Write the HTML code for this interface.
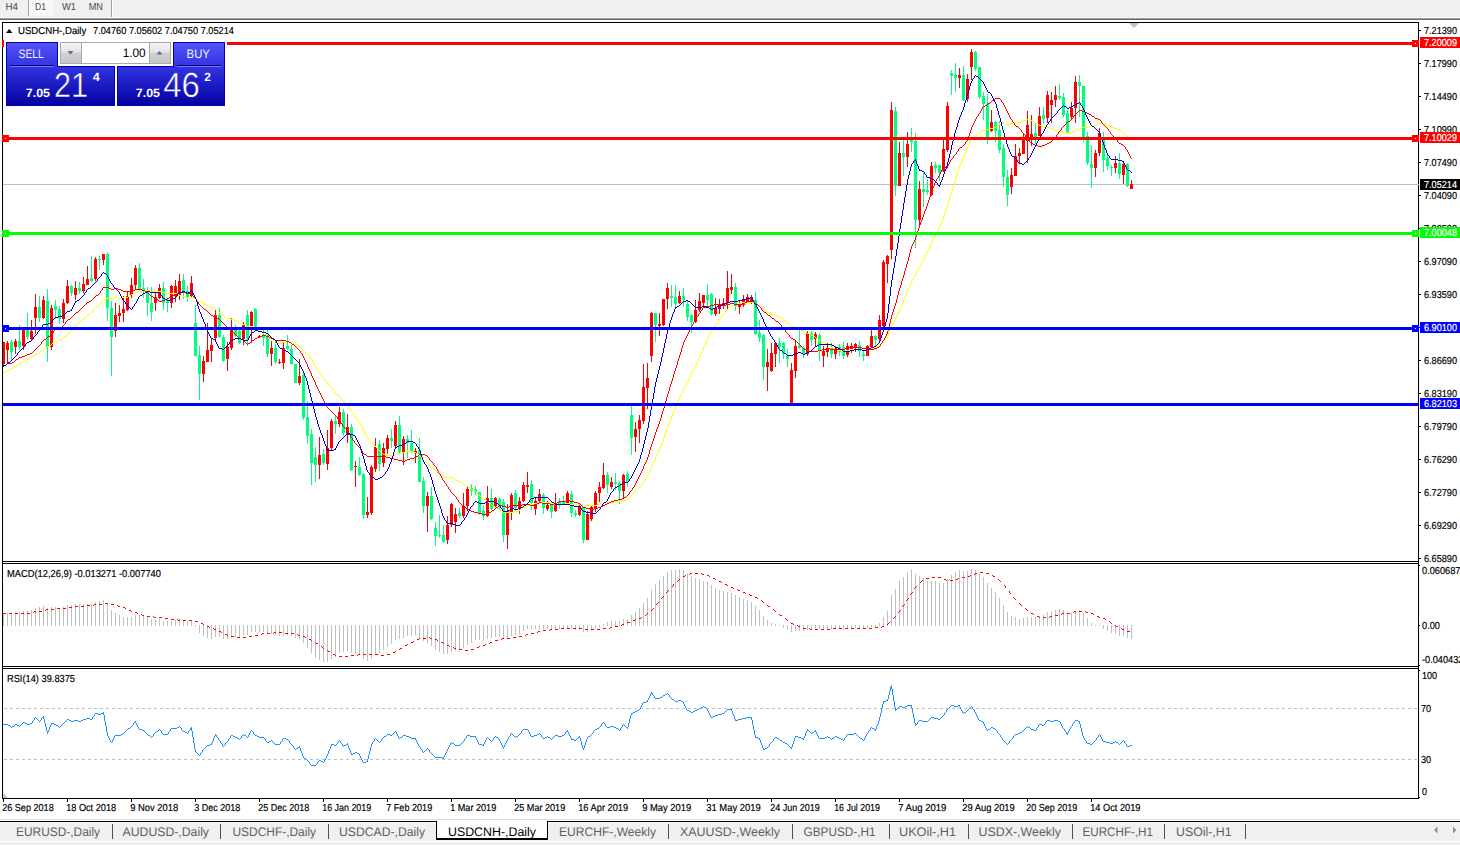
<!DOCTYPE html>
<html><head><meta charset="utf-8"><title>USDCNH-,Daily</title>
<style>
html,body{margin:0;padding:0;background:#fff;}
body{width:1460px;height:845px;overflow:hidden;font-family:'Liberation Sans', sans-serif;}
svg{display:block;font-family:"Liberation Sans",sans-serif;text-rendering:geometricPrecision;}
text{white-space:pre;}
</style></head><body>
<svg width="1460" height="845" viewBox="0 0 1460 845">
<rect x="0" y="0" width="1460" height="845" fill="#ffffff" />
<rect x="0" y="0" width="1460" height="17" fill="#f0f0f0" />
<rect x="0" y="17" width="1460" height="1" fill="#f8f8f8" />
<rect x="0" y="18" width="1460" height="1" fill="#a0a0a0" />
<rect x="0" y="19" width="1460" height="1" fill="#696969" />
<defs><pattern id="chk" width="2" height="2" patternUnits="userSpaceOnUse"><rect width="2" height="2" fill="#f0f0f0"/><rect x="0" y="0" width="1" height="1" fill="#fff"/><rect x="1" y="1" width="1" height="1" fill="#fff"/></pattern></defs>
<rect x="29" y="0" width="24" height="16" fill="url(#chk)" shape-rendering="crispEdges"/>
<rect x="28" y="0" width="1" height="16" fill="#a0a0a0" />
<rect x="111" y="0" width="1" height="17" fill="#a0a0a0" />
<rect x="112" y="0" width="1" height="17" fill="#ffffff" />
<text x="5.5" y="10" font-size="10.05" fill="#484848" text-anchor="start" font-weight="normal" textLength="12.5" lengthAdjust="spacingAndGlyphs" >H4</text>
<text x="35" y="10" font-size="10.05" fill="#484848" text-anchor="start" font-weight="normal" textLength="11" lengthAdjust="spacingAndGlyphs" >D1</text>
<text x="62" y="10" font-size="10.05" fill="#484848" text-anchor="start" font-weight="normal" textLength="14" lengthAdjust="spacingAndGlyphs" >W1</text>
<text x="88.7" y="10" font-size="10.05" fill="#484848" text-anchor="start" font-weight="normal" textLength="14.3" lengthAdjust="spacingAndGlyphs" >MN</text>
<g shape-rendering="crispEdges">
<rect x="3" y="184" width="1415" height="1" fill="#c0c0c0" />
<rect x="3" y="342" width="1" height="24" fill="#ff0000"/>
<rect x="2" y="342" width="3" height="22" fill="#ff0000"/>
<rect x="7" y="341" width="1" height="23" fill="#ff0000"/>
<rect x="6" y="343" width="3" height="7" fill="#ff0000"/>
<rect x="11" y="340" width="1" height="21" fill="#00ff7f"/>
<rect x="10" y="342" width="3" height="10" fill="#00ff7f"/>
<rect x="15" y="339" width="1" height="15" fill="#ff0000"/>
<rect x="14" y="341" width="3" height="6" fill="#ff0000"/>
<rect x="19" y="325" width="1" height="25" fill="#00ff7f"/>
<rect x="18" y="341" width="3" height="6" fill="#00ff7f"/>
<rect x="23" y="329" width="1" height="21" fill="#ff0000"/>
<rect x="22" y="329" width="3" height="17" fill="#ff0000"/>
<rect x="27" y="313" width="1" height="26" fill="#00ff7f"/>
<rect x="26" y="329" width="3" height="8" fill="#00ff7f"/>
<rect x="31" y="320" width="1" height="20" fill="#ff0000"/>
<rect x="30" y="331" width="3" height="8" fill="#ff0000"/>
<rect x="35" y="294" width="1" height="40" fill="#ff0000"/>
<rect x="34" y="307" width="3" height="11" fill="#ff0000"/>
<rect x="39" y="296" width="1" height="26" fill="#00ff7f"/>
<rect x="38" y="307" width="3" height="11" fill="#00ff7f"/>
<rect x="43" y="296" width="1" height="23" fill="#ff0000"/>
<rect x="42" y="300" width="3" height="18" fill="#ff0000"/>
<rect x="47" y="289" width="1" height="73" fill="#00ff7f"/>
<rect x="46" y="301" width="3" height="46" fill="#00ff7f"/>
<rect x="51" y="305" width="1" height="45" fill="#ff0000"/>
<rect x="50" y="308" width="3" height="39" fill="#ff0000"/>
<rect x="55" y="300" width="1" height="19" fill="#00ff7f"/>
<rect x="54" y="306" width="3" height="4" fill="#00ff7f"/>
<rect x="59" y="306" width="1" height="18" fill="#00ff7f"/>
<rect x="58" y="309" width="3" height="10" fill="#00ff7f"/>
<rect x="63" y="299" width="1" height="24" fill="#ff0000"/>
<rect x="62" y="303" width="3" height="16" fill="#ff0000"/>
<rect x="67" y="280" width="1" height="24" fill="#ff0000"/>
<rect x="66" y="286" width="3" height="17" fill="#ff0000"/>
<rect x="71" y="285" width="1" height="11" fill="#00ff7f"/>
<rect x="70" y="286" width="3" height="7" fill="#00ff7f"/>
<rect x="75" y="281" width="1" height="19" fill="#ff0000"/>
<rect x="74" y="288" width="3" height="7" fill="#ff0000"/>
<rect x="79" y="282" width="1" height="12" fill="#00ff7f"/>
<rect x="78" y="288" width="3" height="3" fill="#00ff7f"/>
<rect x="83" y="277" width="1" height="16" fill="#ff0000"/>
<rect x="82" y="284" width="3" height="7" fill="#ff0000"/>
<rect x="87" y="266" width="1" height="19" fill="#ff0000"/>
<rect x="86" y="279" width="3" height="6" fill="#ff0000"/>
<rect x="91" y="256" width="1" height="26" fill="#00ff7f"/>
<rect x="90" y="278" width="3" height="3" fill="#00ff7f"/>
<rect x="95" y="257" width="1" height="24" fill="#ff0000"/>
<rect x="94" y="259" width="3" height="20" fill="#ff0000"/>
<rect x="99" y="256" width="1" height="14" fill="#00ff7f"/>
<rect x="98" y="259" width="3" height="1" fill="#00ff7f"/>
<rect x="103" y="254" width="1" height="11" fill="#ff0000"/>
<rect x="102" y="254" width="3" height="6" fill="#ff0000"/>
<rect x="107" y="253" width="1" height="68" fill="#00ff7f"/>
<rect x="106" y="254" width="3" height="54" fill="#00ff7f"/>
<rect x="111" y="301" width="1" height="75" fill="#00ff7f"/>
<rect x="110" y="308" width="3" height="29" fill="#00ff7f"/>
<rect x="115" y="303" width="1" height="34" fill="#ff0000"/>
<rect x="114" y="315" width="3" height="16" fill="#ff0000"/>
<rect x="119" y="305" width="1" height="17" fill="#ff0000"/>
<rect x="118" y="313" width="3" height="3" fill="#ff0000"/>
<rect x="123" y="296" width="1" height="26" fill="#ff0000"/>
<rect x="122" y="309" width="3" height="4" fill="#ff0000"/>
<rect x="127" y="291" width="1" height="20" fill="#ff0000"/>
<rect x="126" y="296" width="3" height="14" fill="#ff0000"/>
<rect x="131" y="278" width="1" height="20" fill="#ff0000"/>
<rect x="130" y="285" width="3" height="10" fill="#ff0000"/>
<rect x="135" y="265" width="1" height="24" fill="#ff0000"/>
<rect x="134" y="268" width="3" height="17" fill="#ff0000"/>
<rect x="139" y="263" width="1" height="26" fill="#00ff7f"/>
<rect x="138" y="268" width="3" height="21" fill="#00ff7f"/>
<rect x="143" y="279" width="1" height="19" fill="#00ff7f"/>
<rect x="142" y="288" width="3" height="3" fill="#00ff7f"/>
<rect x="147" y="287" width="1" height="29" fill="#00ff7f"/>
<rect x="146" y="291" width="3" height="12" fill="#00ff7f"/>
<rect x="151" y="287" width="1" height="34" fill="#00ff7f"/>
<rect x="150" y="303" width="3" height="9" fill="#00ff7f"/>
<rect x="155" y="291" width="1" height="20" fill="#ff0000"/>
<rect x="154" y="297" width="3" height="6" fill="#ff0000"/>
<rect x="159" y="284" width="1" height="15" fill="#ff0000"/>
<rect x="158" y="288" width="3" height="10" fill="#ff0000"/>
<rect x="163" y="282" width="1" height="28" fill="#00ff7f"/>
<rect x="162" y="288" width="3" height="15" fill="#00ff7f"/>
<rect x="167" y="298" width="1" height="14" fill="#00ff7f"/>
<rect x="166" y="300" width="3" height="3" fill="#00ff7f"/>
<rect x="171" y="285" width="1" height="23" fill="#ff0000"/>
<rect x="170" y="286" width="3" height="17" fill="#ff0000"/>
<rect x="175" y="280" width="1" height="22" fill="#ff0000"/>
<rect x="174" y="286" width="3" height="10" fill="#ff0000"/>
<rect x="179" y="274" width="1" height="26" fill="#ff0000"/>
<rect x="178" y="281" width="3" height="14" fill="#ff0000"/>
<rect x="183" y="274" width="1" height="25" fill="#00ff7f"/>
<rect x="182" y="280" width="3" height="12" fill="#00ff7f"/>
<rect x="187" y="286" width="1" height="16" fill="#00ff7f"/>
<rect x="186" y="291" width="3" height="6" fill="#00ff7f"/>
<rect x="191" y="276" width="1" height="22" fill="#ff0000"/>
<rect x="190" y="283" width="3" height="13" fill="#ff0000"/>
<rect x="195" y="305" width="1" height="51" fill="#00ff7f"/>
<rect x="194" y="323" width="3" height="33" fill="#00ff7f"/>
<rect x="199" y="346" width="1" height="54" fill="#00ff7f"/>
<rect x="198" y="355" width="3" height="19" fill="#00ff7f"/>
<rect x="203" y="356" width="1" height="26" fill="#ff0000"/>
<rect x="202" y="361" width="3" height="13" fill="#ff0000"/>
<rect x="207" y="323" width="1" height="39" fill="#ff0000"/>
<rect x="206" y="350" width="3" height="12" fill="#ff0000"/>
<rect x="211" y="338" width="1" height="24" fill="#ff0000"/>
<rect x="210" y="345" width="3" height="6" fill="#ff0000"/>
<rect x="215" y="310" width="1" height="31" fill="#ff0000"/>
<rect x="214" y="315" width="3" height="23" fill="#ff0000"/>
<rect x="219" y="308" width="1" height="30" fill="#00ff7f"/>
<rect x="218" y="315" width="3" height="22" fill="#00ff7f"/>
<rect x="223" y="335" width="1" height="27" fill="#00ff7f"/>
<rect x="222" y="337" width="3" height="24" fill="#00ff7f"/>
<rect x="227" y="342" width="1" height="29" fill="#ff0000"/>
<rect x="226" y="347" width="3" height="12" fill="#ff0000"/>
<rect x="231" y="318" width="1" height="32" fill="#ff0000"/>
<rect x="230" y="328" width="3" height="20" fill="#ff0000"/>
<rect x="235" y="325" width="1" height="12" fill="#00ff7f"/>
<rect x="234" y="328" width="3" height="8" fill="#00ff7f"/>
<rect x="239" y="329" width="1" height="15" fill="#00ff7f"/>
<rect x="238" y="331" width="3" height="12" fill="#00ff7f"/>
<rect x="243" y="322" width="1" height="23" fill="#ff0000"/>
<rect x="242" y="325" width="3" height="14" fill="#ff0000"/>
<rect x="247" y="310" width="1" height="36" fill="#00ff7f"/>
<rect x="246" y="315" width="3" height="23" fill="#00ff7f"/>
<rect x="251" y="311" width="1" height="32" fill="#ff0000"/>
<rect x="250" y="312" width="3" height="14" fill="#ff0000"/>
<rect x="255" y="308" width="1" height="23" fill="#00ff7f"/>
<rect x="254" y="309" width="3" height="21" fill="#00ff7f"/>
<rect x="259" y="335" width="1" height="3" fill="#ff0000"/>
<rect x="258" y="336" width="3" height="1" fill="#ff0000"/>
<rect x="263" y="330" width="1" height="16" fill="#00ff7f"/>
<rect x="262" y="334" width="3" height="4" fill="#00ff7f"/>
<rect x="267" y="330" width="1" height="27" fill="#00ff7f"/>
<rect x="266" y="335" width="3" height="19" fill="#00ff7f"/>
<rect x="271" y="341" width="1" height="25" fill="#ff0000"/>
<rect x="270" y="348" width="3" height="6" fill="#ff0000"/>
<rect x="275" y="341" width="1" height="23" fill="#00ff7f"/>
<rect x="274" y="348" width="3" height="14" fill="#00ff7f"/>
<rect x="279" y="359" width="1" height="5" fill="#ff0000"/>
<rect x="278" y="362" width="3" height="1" fill="#ff0000"/>
<rect x="283" y="343" width="1" height="26" fill="#ff0000"/>
<rect x="282" y="348" width="3" height="15" fill="#ff0000"/>
<rect x="287" y="335" width="1" height="15" fill="#00ff7f"/>
<rect x="286" y="346" width="3" height="3" fill="#00ff7f"/>
<rect x="291" y="345" width="1" height="20" fill="#00ff7f"/>
<rect x="290" y="349" width="3" height="15" fill="#00ff7f"/>
<rect x="295" y="364" width="1" height="19" fill="#00ff7f"/>
<rect x="294" y="364" width="3" height="19" fill="#00ff7f"/>
<rect x="299" y="359" width="1" height="26" fill="#ff0000"/>
<rect x="298" y="376" width="3" height="7" fill="#ff0000"/>
<rect x="303" y="373" width="1" height="47" fill="#00ff7f"/>
<rect x="302" y="375" width="3" height="43" fill="#00ff7f"/>
<rect x="307" y="401" width="1" height="43" fill="#00ff7f"/>
<rect x="306" y="417" width="3" height="19" fill="#00ff7f"/>
<rect x="311" y="429" width="1" height="56" fill="#00ff7f"/>
<rect x="310" y="434" width="3" height="29" fill="#00ff7f"/>
<rect x="315" y="447" width="1" height="35" fill="#00ff7f"/>
<rect x="314" y="457" width="3" height="8" fill="#00ff7f"/>
<rect x="319" y="437" width="1" height="42" fill="#ff0000"/>
<rect x="318" y="455" width="3" height="10" fill="#ff0000"/>
<rect x="323" y="449" width="1" height="16" fill="#00ff7f"/>
<rect x="322" y="454" width="3" height="9" fill="#00ff7f"/>
<rect x="327" y="430" width="1" height="40" fill="#ff0000"/>
<rect x="326" y="448" width="3" height="16" fill="#ff0000"/>
<rect x="331" y="419" width="1" height="32" fill="#ff0000"/>
<rect x="330" y="421" width="3" height="27" fill="#ff0000"/>
<rect x="335" y="416" width="1" height="18" fill="#00ff7f"/>
<rect x="334" y="421" width="3" height="3" fill="#00ff7f"/>
<rect x="339" y="407" width="1" height="20" fill="#ff0000"/>
<rect x="338" y="412" width="3" height="12" fill="#ff0000"/>
<rect x="343" y="409" width="1" height="27" fill="#00ff7f"/>
<rect x="342" y="412" width="3" height="21" fill="#00ff7f"/>
<rect x="347" y="414" width="1" height="29" fill="#ff0000"/>
<rect x="346" y="427" width="3" height="8" fill="#ff0000"/>
<rect x="351" y="424" width="1" height="47" fill="#00ff7f"/>
<rect x="350" y="427" width="3" height="43" fill="#00ff7f"/>
<rect x="355" y="461" width="1" height="26" fill="#ff0000"/>
<rect x="354" y="466" width="3" height="1" fill="#ff0000"/>
<rect x="359" y="457" width="1" height="19" fill="#00ff7f"/>
<rect x="358" y="467" width="3" height="8" fill="#00ff7f"/>
<rect x="363" y="473" width="1" height="46" fill="#00ff7f"/>
<rect x="362" y="474" width="3" height="41" fill="#00ff7f"/>
<rect x="367" y="497" width="1" height="21" fill="#ff0000"/>
<rect x="366" y="512" width="3" height="3" fill="#ff0000"/>
<rect x="371" y="465" width="1" height="50" fill="#ff0000"/>
<rect x="370" y="467" width="3" height="46" fill="#ff0000"/>
<rect x="375" y="438" width="1" height="34" fill="#ff0000"/>
<rect x="374" y="447" width="3" height="22" fill="#ff0000"/>
<rect x="379" y="440" width="1" height="31" fill="#00ff7f"/>
<rect x="378" y="444" width="3" height="20" fill="#00ff7f"/>
<rect x="383" y="443" width="1" height="24" fill="#ff0000"/>
<rect x="382" y="448" width="3" height="15" fill="#ff0000"/>
<rect x="387" y="435" width="1" height="19" fill="#ff0000"/>
<rect x="386" y="438" width="3" height="11" fill="#ff0000"/>
<rect x="391" y="429" width="1" height="19" fill="#00ff7f"/>
<rect x="390" y="438" width="3" height="3" fill="#00ff7f"/>
<rect x="395" y="421" width="1" height="26" fill="#ff0000"/>
<rect x="394" y="425" width="3" height="21" fill="#ff0000"/>
<rect x="399" y="416" width="1" height="37" fill="#00ff7f"/>
<rect x="398" y="425" width="3" height="27" fill="#00ff7f"/>
<rect x="403" y="436" width="1" height="29" fill="#ff0000"/>
<rect x="402" y="439" width="3" height="13" fill="#ff0000"/>
<rect x="407" y="435" width="1" height="23" fill="#00ff7f"/>
<rect x="406" y="439" width="3" height="4" fill="#00ff7f"/>
<rect x="411" y="430" width="1" height="23" fill="#00ff7f"/>
<rect x="410" y="443" width="3" height="9" fill="#00ff7f"/>
<rect x="415" y="448" width="1" height="15" fill="#ff0000"/>
<rect x="414" y="451" width="3" height="2" fill="#ff0000"/>
<rect x="419" y="438" width="1" height="44" fill="#00ff7f"/>
<rect x="418" y="450" width="3" height="32" fill="#00ff7f"/>
<rect x="423" y="477" width="1" height="36" fill="#00ff7f"/>
<rect x="422" y="481" width="3" height="25" fill="#00ff7f"/>
<rect x="427" y="492" width="1" height="40" fill="#ff0000"/>
<rect x="426" y="496" width="3" height="10" fill="#ff0000"/>
<rect x="431" y="487" width="1" height="33" fill="#00ff7f"/>
<rect x="430" y="496" width="3" height="23" fill="#00ff7f"/>
<rect x="435" y="522" width="1" height="24" fill="#00ff7f"/>
<rect x="434" y="528" width="3" height="8" fill="#00ff7f"/>
<rect x="439" y="515" width="1" height="23" fill="#00ff7f"/>
<rect x="438" y="535" width="3" height="1" fill="#00ff7f"/>
<rect x="443" y="525" width="1" height="18" fill="#00ff7f"/>
<rect x="442" y="535" width="3" height="7" fill="#00ff7f"/>
<rect x="447" y="516" width="1" height="28" fill="#ff0000"/>
<rect x="446" y="525" width="3" height="15" fill="#ff0000"/>
<rect x="451" y="503" width="1" height="24" fill="#ff0000"/>
<rect x="450" y="504" width="3" height="21" fill="#ff0000"/>
<rect x="455" y="508" width="1" height="25" fill="#ff0000"/>
<rect x="454" y="514" width="3" height="8" fill="#ff0000"/>
<rect x="459" y="508" width="1" height="10" fill="#00ff7f"/>
<rect x="458" y="513" width="3" height="3" fill="#00ff7f"/>
<rect x="463" y="493" width="1" height="25" fill="#ff0000"/>
<rect x="462" y="506" width="3" height="10" fill="#ff0000"/>
<rect x="467" y="487" width="1" height="24" fill="#ff0000"/>
<rect x="466" y="489" width="3" height="17" fill="#ff0000"/>
<rect x="471" y="484" width="1" height="12" fill="#00ff7f"/>
<rect x="470" y="488" width="3" height="3" fill="#00ff7f"/>
<rect x="475" y="486" width="1" height="9" fill="#00ff7f"/>
<rect x="474" y="489" width="3" height="3" fill="#00ff7f"/>
<rect x="479" y="492" width="1" height="23" fill="#00ff7f"/>
<rect x="478" y="492" width="3" height="21" fill="#00ff7f"/>
<rect x="483" y="505" width="1" height="15" fill="#00ff7f"/>
<rect x="482" y="511" width="3" height="5" fill="#00ff7f"/>
<rect x="487" y="486" width="1" height="31" fill="#ff0000"/>
<rect x="486" y="498" width="3" height="18" fill="#ff0000"/>
<rect x="491" y="489" width="1" height="21" fill="#00ff7f"/>
<rect x="490" y="498" width="3" height="11" fill="#00ff7f"/>
<rect x="495" y="497" width="1" height="12" fill="#ff0000"/>
<rect x="494" y="498" width="3" height="8" fill="#ff0000"/>
<rect x="499" y="497" width="1" height="12" fill="#00ff7f"/>
<rect x="498" y="499" width="3" height="8" fill="#00ff7f"/>
<rect x="503" y="499" width="1" height="43" fill="#00ff7f"/>
<rect x="502" y="502" width="3" height="33" fill="#00ff7f"/>
<rect x="507" y="504" width="1" height="45" fill="#ff0000"/>
<rect x="506" y="511" width="3" height="24" fill="#ff0000"/>
<rect x="511" y="493" width="1" height="27" fill="#ff0000"/>
<rect x="510" y="495" width="3" height="17" fill="#ff0000"/>
<rect x="515" y="490" width="1" height="21" fill="#00ff7f"/>
<rect x="514" y="493" width="3" height="15" fill="#00ff7f"/>
<rect x="519" y="497" width="1" height="17" fill="#ff0000"/>
<rect x="518" y="501" width="3" height="7" fill="#ff0000"/>
<rect x="523" y="482" width="1" height="20" fill="#ff0000"/>
<rect x="522" y="485" width="3" height="16" fill="#ff0000"/>
<rect x="527" y="472" width="1" height="21" fill="#ff0000"/>
<rect x="526" y="485" width="3" height="2" fill="#ff0000"/>
<rect x="531" y="480" width="1" height="30" fill="#00ff7f"/>
<rect x="530" y="484" width="3" height="19" fill="#00ff7f"/>
<rect x="535" y="498" width="1" height="17" fill="#ff0000"/>
<rect x="534" y="501" width="3" height="8" fill="#ff0000"/>
<rect x="539" y="489" width="1" height="13" fill="#ff0000"/>
<rect x="538" y="494" width="3" height="7" fill="#ff0000"/>
<rect x="543" y="493" width="1" height="21" fill="#00ff7f"/>
<rect x="542" y="495" width="3" height="13" fill="#00ff7f"/>
<rect x="547" y="501" width="1" height="10" fill="#ff0000"/>
<rect x="546" y="505" width="3" height="4" fill="#ff0000"/>
<rect x="551" y="501" width="1" height="17" fill="#00ff7f"/>
<rect x="550" y="504" width="3" height="8" fill="#00ff7f"/>
<rect x="555" y="493" width="1" height="19" fill="#ff0000"/>
<rect x="554" y="503" width="3" height="8" fill="#ff0000"/>
<rect x="559" y="498" width="1" height="11" fill="#00ff7f"/>
<rect x="558" y="501" width="3" height="4" fill="#00ff7f"/>
<rect x="563" y="496" width="1" height="9" fill="#00ff7f"/>
<rect x="562" y="501" width="3" height="3" fill="#00ff7f"/>
<rect x="567" y="491" width="1" height="14" fill="#ff0000"/>
<rect x="566" y="493" width="3" height="11" fill="#ff0000"/>
<rect x="571" y="491" width="1" height="26" fill="#00ff7f"/>
<rect x="570" y="494" width="3" height="19" fill="#00ff7f"/>
<rect x="575" y="510" width="1" height="7" fill="#00ff7f"/>
<rect x="574" y="513" width="3" height="2" fill="#00ff7f"/>
<rect x="579" y="505" width="1" height="11" fill="#ff0000"/>
<rect x="578" y="506" width="3" height="9" fill="#ff0000"/>
<rect x="583" y="506" width="1" height="37" fill="#00ff7f"/>
<rect x="582" y="507" width="3" height="33" fill="#00ff7f"/>
<rect x="587" y="511" width="1" height="29" fill="#ff0000"/>
<rect x="586" y="514" width="3" height="26" fill="#ff0000"/>
<rect x="591" y="506" width="1" height="15" fill="#ff0000"/>
<rect x="590" y="507" width="3" height="12" fill="#ff0000"/>
<rect x="595" y="491" width="1" height="21" fill="#ff0000"/>
<rect x="594" y="493" width="3" height="15" fill="#ff0000"/>
<rect x="599" y="482" width="1" height="20" fill="#ff0000"/>
<rect x="598" y="487" width="3" height="6" fill="#ff0000"/>
<rect x="603" y="463" width="1" height="26" fill="#ff0000"/>
<rect x="602" y="475" width="3" height="13" fill="#ff0000"/>
<rect x="607" y="472" width="1" height="21" fill="#00ff7f"/>
<rect x="606" y="475" width="3" height="10" fill="#00ff7f"/>
<rect x="611" y="477" width="1" height="12" fill="#ff0000"/>
<rect x="610" y="482" width="3" height="5" fill="#ff0000"/>
<rect x="615" y="473" width="1" height="17" fill="#00ff7f"/>
<rect x="614" y="482" width="3" height="2" fill="#00ff7f"/>
<rect x="619" y="481" width="1" height="23" fill="#00ff7f"/>
<rect x="618" y="483" width="3" height="8" fill="#00ff7f"/>
<rect x="623" y="474" width="1" height="24" fill="#ff0000"/>
<rect x="622" y="475" width="3" height="16" fill="#ff0000"/>
<rect x="627" y="471" width="1" height="16" fill="#00ff7f"/>
<rect x="626" y="474" width="3" height="8" fill="#00ff7f"/>
<rect x="631" y="406" width="1" height="49" fill="#00ff7f"/>
<rect x="630" y="415" width="3" height="23" fill="#00ff7f"/>
<rect x="635" y="422" width="1" height="30" fill="#ff0000"/>
<rect x="634" y="429" width="3" height="8" fill="#ff0000"/>
<rect x="639" y="415" width="1" height="28" fill="#ff0000"/>
<rect x="638" y="420" width="3" height="9" fill="#ff0000"/>
<rect x="643" y="364" width="1" height="60" fill="#ff0000"/>
<rect x="642" y="387" width="3" height="34" fill="#ff0000"/>
<rect x="647" y="363" width="1" height="46" fill="#ff0000"/>
<rect x="646" y="378" width="3" height="10" fill="#ff0000"/>
<rect x="651" y="312" width="1" height="50" fill="#ff0000"/>
<rect x="650" y="313" width="3" height="43" fill="#ff0000"/>
<rect x="655" y="313" width="1" height="29" fill="#00ff7f"/>
<rect x="654" y="313" width="3" height="12" fill="#00ff7f"/>
<rect x="659" y="313" width="1" height="23" fill="#ff0000"/>
<rect x="658" y="324" width="3" height="2" fill="#ff0000"/>
<rect x="663" y="299" width="1" height="27" fill="#ff0000"/>
<rect x="662" y="299" width="3" height="26" fill="#ff0000"/>
<rect x="667" y="283" width="1" height="26" fill="#ff0000"/>
<rect x="666" y="288" width="3" height="11" fill="#ff0000"/>
<rect x="671" y="285" width="1" height="22" fill="#00ff7f"/>
<rect x="670" y="296" width="3" height="2" fill="#00ff7f"/>
<rect x="675" y="285" width="1" height="23" fill="#00ff7f"/>
<rect x="674" y="297" width="3" height="7" fill="#00ff7f"/>
<rect x="679" y="291" width="1" height="13" fill="#ff0000"/>
<rect x="678" y="296" width="3" height="7" fill="#ff0000"/>
<rect x="683" y="288" width="1" height="19" fill="#00ff7f"/>
<rect x="682" y="296" width="3" height="4" fill="#00ff7f"/>
<rect x="687" y="300" width="1" height="21" fill="#00ff7f"/>
<rect x="686" y="304" width="3" height="13" fill="#00ff7f"/>
<rect x="691" y="314" width="1" height="19" fill="#00ff7f"/>
<rect x="690" y="315" width="3" height="7" fill="#00ff7f"/>
<rect x="695" y="300" width="1" height="23" fill="#ff0000"/>
<rect x="694" y="310" width="3" height="12" fill="#ff0000"/>
<rect x="699" y="293" width="1" height="19" fill="#ff0000"/>
<rect x="698" y="301" width="3" height="9" fill="#ff0000"/>
<rect x="703" y="295" width="1" height="13" fill="#ff0000"/>
<rect x="702" y="295" width="3" height="8" fill="#ff0000"/>
<rect x="707" y="284" width="1" height="22" fill="#00ff7f"/>
<rect x="706" y="295" width="3" height="5" fill="#00ff7f"/>
<rect x="711" y="293" width="1" height="23" fill="#00ff7f"/>
<rect x="710" y="294" width="3" height="20" fill="#00ff7f"/>
<rect x="715" y="298" width="1" height="18" fill="#ff0000"/>
<rect x="714" y="308" width="3" height="6" fill="#ff0000"/>
<rect x="719" y="299" width="1" height="15" fill="#ff0000"/>
<rect x="718" y="304" width="3" height="5" fill="#ff0000"/>
<rect x="723" y="298" width="1" height="11" fill="#ff0000"/>
<rect x="722" y="303" width="3" height="2" fill="#ff0000"/>
<rect x="727" y="271" width="1" height="38" fill="#ff0000"/>
<rect x="726" y="288" width="3" height="15" fill="#ff0000"/>
<rect x="731" y="274" width="1" height="20" fill="#ff0000"/>
<rect x="730" y="287" width="3" height="3" fill="#ff0000"/>
<rect x="735" y="283" width="1" height="28" fill="#00ff7f"/>
<rect x="734" y="287" width="3" height="19" fill="#00ff7f"/>
<rect x="739" y="300" width="1" height="14" fill="#ff0000"/>
<rect x="738" y="304" width="3" height="3" fill="#ff0000"/>
<rect x="743" y="295" width="1" height="12" fill="#ff0000"/>
<rect x="742" y="299" width="3" height="6" fill="#ff0000"/>
<rect x="747" y="294" width="1" height="9" fill="#ff0000"/>
<rect x="746" y="297" width="3" height="5" fill="#ff0000"/>
<rect x="751" y="295" width="1" height="9" fill="#ff0000"/>
<rect x="750" y="297" width="3" height="5" fill="#ff0000"/>
<rect x="755" y="292" width="1" height="43" fill="#00ff7f"/>
<rect x="754" y="300" width="3" height="34" fill="#00ff7f"/>
<rect x="759" y="320" width="1" height="22" fill="#00ff7f"/>
<rect x="758" y="333" width="3" height="5" fill="#00ff7f"/>
<rect x="763" y="334" width="1" height="46" fill="#00ff7f"/>
<rect x="762" y="335" width="3" height="32" fill="#00ff7f"/>
<rect x="767" y="349" width="1" height="42" fill="#ff0000"/>
<rect x="766" y="362" width="3" height="5" fill="#ff0000"/>
<rect x="771" y="343" width="1" height="29" fill="#ff0000"/>
<rect x="770" y="353" width="3" height="18" fill="#ff0000"/>
<rect x="775" y="343" width="1" height="24" fill="#ff0000"/>
<rect x="774" y="343" width="3" height="11" fill="#ff0000"/>
<rect x="779" y="338" width="1" height="25" fill="#00ff7f"/>
<rect x="778" y="343" width="3" height="4" fill="#00ff7f"/>
<rect x="783" y="342" width="1" height="17" fill="#00ff7f"/>
<rect x="782" y="343" width="3" height="11" fill="#00ff7f"/>
<rect x="787" y="349" width="1" height="18" fill="#00ff7f"/>
<rect x="786" y="356" width="3" height="3" fill="#00ff7f"/>
<rect x="791" y="363" width="1" height="40" fill="#ff0000"/>
<rect x="790" y="370" width="3" height="33" fill="#ff0000"/>
<rect x="795" y="341" width="1" height="37" fill="#ff0000"/>
<rect x="794" y="346" width="3" height="25" fill="#ff0000"/>
<rect x="799" y="330" width="1" height="19" fill="#00ff7f"/>
<rect x="798" y="345" width="3" height="3" fill="#00ff7f"/>
<rect x="803" y="346" width="1" height="12" fill="#00ff7f"/>
<rect x="802" y="348" width="3" height="6" fill="#00ff7f"/>
<rect x="807" y="331" width="1" height="25" fill="#ff0000"/>
<rect x="806" y="333" width="3" height="21" fill="#ff0000"/>
<rect x="811" y="331" width="1" height="15" fill="#00ff7f"/>
<rect x="810" y="333" width="3" height="7" fill="#00ff7f"/>
<rect x="815" y="332" width="1" height="14" fill="#ff0000"/>
<rect x="814" y="334" width="3" height="5" fill="#ff0000"/>
<rect x="819" y="333" width="1" height="28" fill="#00ff7f"/>
<rect x="818" y="335" width="3" height="16" fill="#00ff7f"/>
<rect x="823" y="346" width="1" height="21" fill="#ff0000"/>
<rect x="822" y="351" width="3" height="5" fill="#ff0000"/>
<rect x="827" y="343" width="1" height="14" fill="#ff0000"/>
<rect x="826" y="348" width="3" height="4" fill="#ff0000"/>
<rect x="831" y="343" width="1" height="15" fill="#00ff7f"/>
<rect x="830" y="348" width="3" height="6" fill="#00ff7f"/>
<rect x="835" y="346" width="1" height="13" fill="#ff0000"/>
<rect x="834" y="348" width="3" height="6" fill="#ff0000"/>
<rect x="839" y="344" width="1" height="12" fill="#00ff7f"/>
<rect x="838" y="347" width="3" height="5" fill="#00ff7f"/>
<rect x="843" y="342" width="1" height="17" fill="#00ff7f"/>
<rect x="842" y="347" width="3" height="9" fill="#00ff7f"/>
<rect x="847" y="343" width="1" height="14" fill="#ff0000"/>
<rect x="846" y="346" width="3" height="9" fill="#ff0000"/>
<rect x="851" y="343" width="1" height="10" fill="#ff0000"/>
<rect x="850" y="346" width="3" height="3" fill="#ff0000"/>
<rect x="855" y="343" width="1" height="9" fill="#ff0000"/>
<rect x="854" y="344" width="3" height="4" fill="#ff0000"/>
<rect x="859" y="341" width="1" height="16" fill="#00ff7f"/>
<rect x="858" y="345" width="3" height="6" fill="#00ff7f"/>
<rect x="863" y="351" width="1" height="10" fill="#00ff7f"/>
<rect x="862" y="354" width="3" height="2" fill="#00ff7f"/>
<rect x="867" y="345" width="1" height="11" fill="#ff0000"/>
<rect x="866" y="346" width="3" height="10" fill="#ff0000"/>
<rect x="871" y="330" width="1" height="18" fill="#ff0000"/>
<rect x="870" y="336" width="3" height="11" fill="#ff0000"/>
<rect x="875" y="335" width="1" height="11" fill="#00ff7f"/>
<rect x="874" y="336" width="3" height="4" fill="#00ff7f"/>
<rect x="879" y="315" width="1" height="26" fill="#ff0000"/>
<rect x="878" y="320" width="3" height="19" fill="#ff0000"/>
<rect x="883" y="260" width="1" height="67" fill="#ff0000"/>
<rect x="882" y="262" width="3" height="64" fill="#ff0000"/>
<rect x="887" y="255" width="1" height="28" fill="#ff0000"/>
<rect x="886" y="256" width="3" height="8" fill="#ff0000"/>
<rect x="891" y="102" width="1" height="157" fill="#ff0000"/>
<rect x="890" y="110" width="3" height="140" fill="#ff0000"/>
<rect x="895" y="107" width="1" height="89" fill="#00ff7f"/>
<rect x="894" y="111" width="3" height="75" fill="#00ff7f"/>
<rect x="899" y="142" width="1" height="44" fill="#ff0000"/>
<rect x="898" y="153" width="3" height="33" fill="#ff0000"/>
<rect x="903" y="140" width="1" height="36" fill="#00ff7f"/>
<rect x="902" y="153" width="3" height="4" fill="#00ff7f"/>
<rect x="907" y="132" width="1" height="35" fill="#ff0000"/>
<rect x="906" y="144" width="3" height="13" fill="#ff0000"/>
<rect x="911" y="128" width="1" height="24" fill="#00ff7f"/>
<rect x="910" y="139" width="3" height="3" fill="#00ff7f"/>
<rect x="915" y="133" width="1" height="115" fill="#00ff7f"/>
<rect x="914" y="141" width="3" height="79" fill="#00ff7f"/>
<rect x="919" y="181" width="1" height="44" fill="#ff0000"/>
<rect x="918" y="189" width="3" height="31" fill="#ff0000"/>
<rect x="923" y="173" width="1" height="34" fill="#00ff7f"/>
<rect x="922" y="189" width="3" height="3" fill="#00ff7f"/>
<rect x="927" y="179" width="1" height="16" fill="#00ff7f"/>
<rect x="926" y="190" width="3" height="2" fill="#00ff7f"/>
<rect x="931" y="162" width="1" height="34" fill="#ff0000"/>
<rect x="930" y="166" width="3" height="29" fill="#ff0000"/>
<rect x="935" y="162" width="1" height="11" fill="#00ff7f"/>
<rect x="934" y="165" width="3" height="3" fill="#00ff7f"/>
<rect x="939" y="165" width="1" height="16" fill="#00ff7f"/>
<rect x="938" y="165" width="3" height="8" fill="#00ff7f"/>
<rect x="943" y="140" width="1" height="32" fill="#ff0000"/>
<rect x="942" y="149" width="3" height="22" fill="#ff0000"/>
<rect x="947" y="102" width="1" height="50" fill="#ff0000"/>
<rect x="946" y="106" width="3" height="44" fill="#ff0000"/>
<rect x="951" y="70" width="1" height="25" fill="#00ff7f"/>
<rect x="950" y="73" width="3" height="3" fill="#00ff7f"/>
<rect x="955" y="63" width="1" height="29" fill="#00ff7f"/>
<rect x="954" y="75" width="3" height="3" fill="#00ff7f"/>
<rect x="959" y="68" width="1" height="20" fill="#ff0000"/>
<rect x="958" y="75" width="3" height="3" fill="#ff0000"/>
<rect x="963" y="66" width="1" height="35" fill="#00ff7f"/>
<rect x="962" y="75" width="3" height="25" fill="#00ff7f"/>
<rect x="967" y="74" width="1" height="28" fill="#ff0000"/>
<rect x="966" y="79" width="3" height="20" fill="#ff0000"/>
<rect x="971" y="49" width="1" height="31" fill="#ff0000"/>
<rect x="970" y="52" width="3" height="15" fill="#ff0000"/>
<rect x="975" y="51" width="1" height="20" fill="#00ff7f"/>
<rect x="974" y="52" width="3" height="17" fill="#00ff7f"/>
<rect x="979" y="67" width="1" height="32" fill="#00ff7f"/>
<rect x="978" y="67" width="3" height="30" fill="#00ff7f"/>
<rect x="983" y="92" width="1" height="28" fill="#00ff7f"/>
<rect x="982" y="96" width="3" height="8" fill="#00ff7f"/>
<rect x="987" y="94" width="1" height="50" fill="#00ff7f"/>
<rect x="986" y="104" width="3" height="33" fill="#00ff7f"/>
<rect x="991" y="110" width="1" height="22" fill="#ff0000"/>
<rect x="990" y="122" width="3" height="9" fill="#ff0000"/>
<rect x="995" y="121" width="1" height="21" fill="#00ff7f"/>
<rect x="994" y="122" width="3" height="9" fill="#00ff7f"/>
<rect x="999" y="121" width="1" height="32" fill="#00ff7f"/>
<rect x="998" y="130" width="3" height="20" fill="#00ff7f"/>
<rect x="1003" y="144" width="1" height="43" fill="#00ff7f"/>
<rect x="1002" y="148" width="3" height="29" fill="#00ff7f"/>
<rect x="1007" y="170" width="1" height="36" fill="#00ff7f"/>
<rect x="1006" y="177" width="3" height="18" fill="#00ff7f"/>
<rect x="1011" y="168" width="1" height="26" fill="#ff0000"/>
<rect x="1010" y="175" width="3" height="12" fill="#ff0000"/>
<rect x="1015" y="144" width="1" height="32" fill="#ff0000"/>
<rect x="1014" y="156" width="3" height="20" fill="#ff0000"/>
<rect x="1019" y="148" width="1" height="15" fill="#ff0000"/>
<rect x="1018" y="153" width="3" height="3" fill="#ff0000"/>
<rect x="1023" y="134" width="1" height="20" fill="#ff0000"/>
<rect x="1022" y="139" width="3" height="15" fill="#ff0000"/>
<rect x="1027" y="111" width="1" height="52" fill="#ff0000"/>
<rect x="1026" y="125" width="3" height="16" fill="#ff0000"/>
<rect x="1031" y="115" width="1" height="31" fill="#ff0000"/>
<rect x="1030" y="134" width="3" height="4" fill="#ff0000"/>
<rect x="1035" y="123" width="1" height="21" fill="#00ff7f"/>
<rect x="1034" y="133" width="3" height="4" fill="#00ff7f"/>
<rect x="1039" y="107" width="1" height="29" fill="#ff0000"/>
<rect x="1038" y="116" width="3" height="20" fill="#ff0000"/>
<rect x="1043" y="107" width="1" height="17" fill="#00ff7f"/>
<rect x="1042" y="115" width="3" height="4" fill="#00ff7f"/>
<rect x="1047" y="91" width="1" height="32" fill="#ff0000"/>
<rect x="1046" y="95" width="3" height="23" fill="#ff0000"/>
<rect x="1051" y="92" width="1" height="31" fill="#ff0000"/>
<rect x="1050" y="100" width="3" height="5" fill="#ff0000"/>
<rect x="1055" y="86" width="1" height="21" fill="#ff0000"/>
<rect x="1054" y="95" width="3" height="5" fill="#ff0000"/>
<rect x="1059" y="84" width="1" height="16" fill="#00ff7f"/>
<rect x="1058" y="96" width="3" height="2" fill="#00ff7f"/>
<rect x="1063" y="93" width="1" height="24" fill="#00ff7f"/>
<rect x="1062" y="97" width="3" height="18" fill="#00ff7f"/>
<rect x="1067" y="110" width="1" height="24" fill="#00ff7f"/>
<rect x="1066" y="113" width="3" height="19" fill="#00ff7f"/>
<rect x="1071" y="102" width="1" height="17" fill="#ff0000"/>
<rect x="1070" y="108" width="3" height="9" fill="#ff0000"/>
<rect x="1075" y="76" width="1" height="47" fill="#ff0000"/>
<rect x="1074" y="82" width="3" height="26" fill="#ff0000"/>
<rect x="1079" y="75" width="1" height="42" fill="#00ff7f"/>
<rect x="1078" y="82" width="3" height="4" fill="#00ff7f"/>
<rect x="1083" y="86" width="1" height="56" fill="#00ff7f"/>
<rect x="1082" y="86" width="3" height="52" fill="#00ff7f"/>
<rect x="1087" y="132" width="1" height="33" fill="#00ff7f"/>
<rect x="1086" y="136" width="3" height="27" fill="#00ff7f"/>
<rect x="1091" y="145" width="1" height="43" fill="#00ff7f"/>
<rect x="1090" y="164" width="3" height="4" fill="#00ff7f"/>
<rect x="1095" y="150" width="1" height="27" fill="#ff0000"/>
<rect x="1094" y="153" width="3" height="15" fill="#ff0000"/>
<rect x="1099" y="128" width="1" height="28" fill="#ff0000"/>
<rect x="1098" y="133" width="3" height="20" fill="#ff0000"/>
<rect x="1103" y="132" width="1" height="40" fill="#00ff7f"/>
<rect x="1102" y="139" width="3" height="21" fill="#00ff7f"/>
<rect x="1107" y="153" width="1" height="17" fill="#00ff7f"/>
<rect x="1106" y="158" width="3" height="8" fill="#00ff7f"/>
<rect x="1111" y="165" width="1" height="11" fill="#00ff7f"/>
<rect x="1110" y="167" width="3" height="1" fill="#00ff7f"/>
<rect x="1115" y="156" width="1" height="17" fill="#ff0000"/>
<rect x="1114" y="163" width="3" height="5" fill="#ff0000"/>
<rect x="1119" y="153" width="1" height="26" fill="#00ff7f"/>
<rect x="1118" y="163" width="3" height="11" fill="#00ff7f"/>
<rect x="1123" y="163" width="1" height="21" fill="#ff0000"/>
<rect x="1122" y="164" width="3" height="11" fill="#ff0000"/>
<rect x="1127" y="163" width="1" height="24" fill="#00ff7f"/>
<rect x="1126" y="164" width="3" height="22" fill="#00ff7f"/>
<rect x="1131" y="180" width="1" height="9" fill="#ff0000"/>
<rect x="1130" y="184" width="3" height="5" fill="#ff0000"/>
</g>
<path d="M3.5,372v1M4.5,372v1M5.5,371v1M6.5,371v1M7.5,370v1M8.5,370v1M9.5,369v1M10.5,369v1M11.5,368v1M12.5,368v1M13.5,367v1M14.5,367v1M15.5,366v1M16.5,365v1M17.5,365v1M18.5,364v1M19.5,363v1M20.5,363v1M21.5,362v1M22.5,362v1M23.5,361v1M24.5,361v1M25.5,360v1M26.5,360v1M27.5,359v1M28.5,359v1M29.5,358v1M30.5,358v1M31.5,357v1M32.5,356v1M33.5,356v1M34.5,355v1M35.5,354v1M36.5,354v1M37.5,353v1M38.5,353v1M39.5,352v1M40.5,351v1M41.5,350v1M42.5,349v1M43.5,348v1M44.5,348v1M45.5,347v1M46.5,347v1M47.5,346v1M48.5,346v1M49.5,345v1M50.5,345v1M51.5,344v1M52.5,343v1M53.5,343v1M54.5,342v1M55.5,341v1M56.5,341v1M57.5,341v1M58.5,340v1M59.5,340v1M60.5,339v1M61.5,339v1M62.5,338v1M63.5,337v1M64.5,336v1M65.5,336v1M66.5,335v1M67.5,334v1M68.5,333v1M69.5,332v1M70.5,331v1M71.5,330v1M72.5,329v1M73.5,327v2M74.5,326v1M75.5,325v1M76.5,324v1M77.5,324v1M78.5,323v1M79.5,322v1M80.5,321v1M81.5,320v1M82.5,319v1M83.5,318v1M84.5,317v1M85.5,317v1M86.5,316v1M87.5,315v1M88.5,314v1M89.5,314v1M90.5,313v1M91.5,312v1M92.5,311v1M93.5,309v2M94.5,308v1M95.5,307v1M96.5,306v1M97.5,306v1M98.5,305v1M99.5,304v1M100.5,303v1M101.5,301v2M102.5,300v1M103.5,299v1M104.5,299v1M105.5,299v1M106.5,298v1M107.5,298v1M108.5,298v1M109.5,298v1M110.5,298v1M111.5,298v1M112.5,298v1M113.5,298v1M114.5,297v1M115.5,297v1M116.5,297v1M117.5,297v1M118.5,298v1M119.5,298v1M120.5,298v1M121.5,298v1M122.5,297v1M123.5,297v1M124.5,297v1M125.5,297v1M126.5,297v1M127.5,297v1M128.5,296v1M129.5,296v1M130.5,295v1M131.5,294v1M132.5,294v1M133.5,293v1M134.5,293v1M135.5,292v1M136.5,292v1M137.5,292v1M138.5,291v1M139.5,291v1M140.5,291v1M141.5,291v1M142.5,290v1M143.5,290v1M144.5,290v1M145.5,290v1M146.5,290v1M147.5,290v1M148.5,290v1M149.5,290v1M150.5,291v1M151.5,291v1M152.5,291v1M153.5,291v1M154.5,291v1M155.5,291v1M156.5,291v1M157.5,291v1M158.5,291v1M159.5,291v1M160.5,291v1M161.5,291v1M162.5,292v1M163.5,292v1M164.5,292v1M165.5,292v1M166.5,293v1M167.5,293v1M168.5,293v1M169.5,293v1M170.5,293v1M171.5,293v1M172.5,293v1M173.5,293v1M174.5,293v1M175.5,293v1M176.5,293v1M177.5,294v1M178.5,294v1M179.5,295v1M180.5,295v1M181.5,295v1M182.5,296v1M183.5,296v1M184.5,296v1M185.5,297v1M186.5,297v1M187.5,298v1M188.5,298v1M189.5,298v1M190.5,297v1M191.5,297v1M192.5,297v1M193.5,297v1M194.5,298v1M195.5,298v1M196.5,299v1M197.5,299v1M198.5,300v1M199.5,301v1M200.5,301v1M201.5,302v1M202.5,302v1M203.5,303v1M204.5,303v1M205.5,304v1M206.5,304v1M207.5,305v1M208.5,305v1M209.5,306v1M210.5,306v1M211.5,307v1M212.5,307v1M213.5,307v1M214.5,308v1M215.5,308v1M216.5,309v1M217.5,310v1M218.5,311v1M219.5,312v1M220.5,313v1M221.5,313v1M222.5,314v1M223.5,315v1M224.5,316v1M225.5,316v1M226.5,317v1M227.5,318v1M228.5,318v1M229.5,318v1M230.5,319v1M231.5,319v1M232.5,319v1M233.5,319v1M234.5,320v1M235.5,320v1M236.5,320v1M237.5,321v1M238.5,321v1M239.5,322v1M240.5,322v1M241.5,323v1M242.5,323v1M243.5,324v1M244.5,324v1M245.5,325v1M246.5,325v1M247.5,326v1M248.5,326v1M249.5,326v1M250.5,326v1M251.5,326v1M252.5,326v1M253.5,327v1M254.5,327v1M255.5,328v1M256.5,329v1M257.5,329v1M258.5,330v1M259.5,331v1M260.5,331v1M261.5,332v1M262.5,332v1M263.5,333v1M264.5,334v1M265.5,334v1M266.5,335v1M267.5,336v1M268.5,337v1M269.5,337v1M270.5,338v1M271.5,339v1M272.5,340v1M273.5,341v1M274.5,342v1M275.5,343v1M276.5,343v1M277.5,343v1M278.5,343v1M279.5,343v1M280.5,343v1M281.5,343v1M282.5,342v1M283.5,342v1M284.5,342v1M285.5,342v1M286.5,341v1M287.5,341v1M288.5,341v1M289.5,341v1M290.5,342v1M291.5,342v1M292.5,342v1M293.5,343v1M294.5,343v1M295.5,344v1M296.5,344v1M297.5,345v1M298.5,345v1M299.5,346v1M300.5,347v1M301.5,348v1M302.5,349v1M303.5,350v1M304.5,351v1M305.5,352v1M306.5,353v1M307.5,354v1M308.5,355v1M309.5,356v2M310.5,358v1M311.5,359v1M312.5,360v2M313.5,362v2M314.5,364v2M315.5,366v1M316.5,367v2M317.5,369v1M318.5,370v2M319.5,372v1M320.5,373v1M321.5,374v2M322.5,376v1M323.5,377v1M324.5,378v2M325.5,380v1M326.5,381v2M327.5,383v1M328.5,384v1M329.5,385v1M330.5,386v1M331.5,387v1M332.5,388v2M333.5,390v1M334.5,391v2M335.5,393v1M336.5,394v1M337.5,394v1M338.5,395v1M339.5,396v1M340.5,397v1M341.5,398v2M342.5,400v1M343.5,401v1M344.5,402v1M345.5,403v1M346.5,404v1M347.5,405v1M348.5,406v2M349.5,408v1M350.5,409v2M351.5,411v1M352.5,412v1M353.5,413v2M354.5,415v1M355.5,416v1M356.5,417v2M357.5,419v1M358.5,420v2M359.5,422v1M360.5,423v2M361.5,425v2M362.5,427v2M363.5,429v2M364.5,431v2M365.5,433v2M366.5,435v2M367.5,437v1M368.5,438v2M369.5,440v1M370.5,441v2M371.5,443v1M372.5,444v1M373.5,444v1M374.5,445v1M375.5,446v1M376.5,447v1M377.5,448v1M378.5,449v1M379.5,450v1M380.5,451v1M381.5,452v1M382.5,453v1M383.5,454v1M384.5,454v1M385.5,454v1M386.5,455v1M387.5,455v1M388.5,455v1M389.5,455v1M390.5,455v1M391.5,455v1M392.5,455v1M393.5,454v1M394.5,454v1M395.5,453v1M396.5,453v1M397.5,453v1M398.5,453v1M399.5,453v1M400.5,453v1M401.5,453v1M402.5,452v1M403.5,452v1M404.5,452v1M405.5,452v1M406.5,451v1M407.5,451v1M408.5,451v1M409.5,451v1M410.5,451v1M411.5,451v1M412.5,451v1M413.5,451v1M414.5,452v1M415.5,452v1M416.5,453v1M417.5,453v1M418.5,454v1M419.5,455v1M420.5,456v1M421.5,457v2M422.5,459v1M423.5,460v1M424.5,461v1M425.5,461v1M426.5,462v1M427.5,463v1M428.5,464v1M429.5,465v1M430.5,466v1M431.5,467v1M432.5,468v1M433.5,468v1M434.5,469v1M435.5,470v1M436.5,471v1M437.5,472v1M438.5,473v1M439.5,474v1M440.5,475v1M441.5,475v1M442.5,476v1M443.5,477v1M444.5,477v1M445.5,477v1M446.5,477v1M447.5,477v1M448.5,477v1M449.5,477v1M450.5,477v1M451.5,477v1M452.5,477v1M453.5,478v1M454.5,478v1M455.5,479v1M456.5,480v1M457.5,480v1M458.5,481v1M459.5,482v1M460.5,482v1M461.5,483v1M462.5,483v1M463.5,484v1M464.5,484v1M465.5,485v1M466.5,485v1M467.5,486v1M468.5,487v1M469.5,487v1M470.5,488v1M471.5,489v1M472.5,489v1M473.5,490v1M474.5,490v1M475.5,491v1M476.5,492v1M477.5,493v1M478.5,494v1M479.5,495v1M480.5,496v1M481.5,496v1M482.5,497v1M483.5,498v1M484.5,499v1M485.5,499v1M486.5,500v1M487.5,501v1M488.5,502v1M489.5,502v1M490.5,503v1M491.5,504v1M492.5,505v1M493.5,505v1M494.5,506v1M495.5,507v1M496.5,507v1M497.5,508v1M498.5,508v1M499.5,509v1M500.5,510v1M501.5,510v1M502.5,511v1M503.5,512v1M504.5,512v1M505.5,512v1M506.5,512v1M507.5,512v1M508.5,512v1M509.5,512v1M510.5,512v1M511.5,512v1M512.5,512v1M513.5,512v1M514.5,511v1M515.5,511v1M516.5,511v1M517.5,511v1M518.5,510v1M519.5,510v1M520.5,509v1M521.5,509v1M522.5,508v1M523.5,507v1M524.5,507v1M525.5,506v1M526.5,506v1M527.5,505v1M528.5,505v1M529.5,505v1M530.5,504v1M531.5,504v1M532.5,504v1M533.5,504v1M534.5,503v1M535.5,503v1M536.5,503v1M537.5,503v1M538.5,502v1M539.5,502v1M540.5,502v1M541.5,502v1M542.5,502v1M543.5,502v1M544.5,502v1M545.5,502v1M546.5,502v1M547.5,502v1M548.5,502v1M549.5,502v1M550.5,503v1M551.5,503v1M552.5,503v1M553.5,503v1M554.5,504v1M555.5,504v1M556.5,504v1M557.5,504v1M558.5,504v1M559.5,504v1M560.5,504v1M561.5,504v1M562.5,504v1M563.5,504v1M564.5,504v1M565.5,504v1M566.5,503v1M567.5,503v1M568.5,503v1M569.5,503v1M570.5,504v1M571.5,504v1M572.5,504v1M573.5,504v1M574.5,504v1M575.5,504v1M576.5,504v1M577.5,504v1M578.5,504v1M579.5,504v1M580.5,504v1M581.5,505v1M582.5,505v1M583.5,506v1M584.5,506v1M585.5,506v1M586.5,505v1M587.5,505v1M588.5,505v1M589.5,505v1M590.5,505v1M591.5,505v1M592.5,505v1M593.5,505v1M594.5,505v1M595.5,505v1M596.5,505v1M597.5,504v1M598.5,504v1M599.5,503v1M600.5,503v1M601.5,503v1M602.5,502v1M603.5,502v1M604.5,502v1M605.5,502v1M606.5,502v1M607.5,502v1M608.5,502v1M609.5,502v1M610.5,502v1M611.5,502v1M612.5,502v1M613.5,502v1M614.5,501v1M615.5,501v1M616.5,501v1M617.5,501v1M618.5,501v1M619.5,501v1M620.5,501v1M621.5,501v1M622.5,500v1M623.5,500v1M624.5,500v1M625.5,500v1M626.5,499v1M627.5,499v1M628.5,498v1M629.5,497v1M630.5,496v1M631.5,495v1M632.5,494v1M633.5,493v1M634.5,492v1M635.5,491v1M636.5,490v1M637.5,489v1M638.5,488v1M639.5,487v1M640.5,486v1M641.5,484v2M642.5,483v1M643.5,482v1M644.5,480v2M645.5,479v1M646.5,477v2M647.5,475v2M648.5,473v2M649.5,471v2M650.5,469v2M651.5,466v3M652.5,464v2M653.5,462v2M654.5,460v2M655.5,457v3M656.5,455v2M657.5,453v2M658.5,451v2M659.5,448v3M660.5,446v2M661.5,443v3M662.5,441v2M663.5,438v3M664.5,435v3M665.5,432v3M666.5,429v3M667.5,426v3M668.5,424v2M669.5,421v3M670.5,419v2M671.5,416v3M672.5,414v2M673.5,411v3M674.5,409v2M675.5,406v3M676.5,404v2M677.5,402v2M678.5,400v2M679.5,397v3M680.5,395v2M681.5,393v2M682.5,391v2M683.5,389v2M684.5,387v2M685.5,385v2M686.5,383v2M687.5,381v2M688.5,379v2M689.5,377v2M690.5,375v2M691.5,373v2M692.5,371v2M693.5,369v2M694.5,367v2M695.5,365v2M696.5,363v2M697.5,361v2M698.5,359v2M699.5,356v3M700.5,354v2M701.5,352v2M702.5,350v2M703.5,347v3M704.5,345v2M705.5,343v2M706.5,341v2M707.5,338v3M708.5,336v2M709.5,334v2M710.5,332v2M711.5,331v1M712.5,329v2M713.5,328v1M714.5,326v2M715.5,325v1M716.5,323v2M717.5,322v1M718.5,320v2M719.5,319v1M720.5,318v1M721.5,316v2M722.5,315v1M723.5,314v1M724.5,313v1M725.5,311v2M726.5,310v1M727.5,309v1M728.5,308v1M729.5,307v1M730.5,306v1M731.5,305v1M732.5,305v1M733.5,305v1M734.5,304v1M735.5,304v1M736.5,304v1M737.5,304v1M738.5,303v1M739.5,303v1M740.5,303v1M741.5,303v1M742.5,302v1M743.5,302v1M744.5,302v1M745.5,302v1M746.5,302v1M747.5,302v1M748.5,302v1M749.5,302v1M750.5,302v1M751.5,302v1M752.5,302v1M753.5,303v1M754.5,303v1M755.5,304v1M756.5,304v1M757.5,305v1M758.5,305v1M759.5,306v1M760.5,307v1M761.5,307v1M762.5,308v1M763.5,309v1M764.5,310v1M765.5,310v1M766.5,311v1M767.5,312v1M768.5,312v1M769.5,313v1M770.5,313v1M771.5,314v1M772.5,314v1M773.5,314v1M774.5,315v1M775.5,315v1M776.5,315v1M777.5,316v1M778.5,316v1M779.5,317v1M780.5,317v1M781.5,318v1M782.5,318v1M783.5,319v1M784.5,320v1M785.5,320v1M786.5,321v1M787.5,322v1M788.5,323v1M789.5,324v1M790.5,325v1M791.5,326v1M792.5,326v1M793.5,326v1M794.5,327v1M795.5,327v1M796.5,327v1M797.5,328v1M798.5,328v1M799.5,329v1M800.5,329v1M801.5,330v1M802.5,330v1M803.5,331v1M804.5,331v1M805.5,332v1M806.5,332v1M807.5,333v1M808.5,333v1M809.5,334v1M810.5,334v1M811.5,335v1M812.5,335v1M813.5,336v1M814.5,336v1M815.5,337v1M816.5,338v1M817.5,338v1M818.5,339v1M819.5,340v1M820.5,340v1M821.5,341v1M822.5,341v1M823.5,342v1M824.5,342v1M825.5,343v1M826.5,343v1M827.5,344v1M828.5,345v1M829.5,345v1M830.5,346v1M831.5,347v1M832.5,347v1M833.5,348v1M834.5,348v1M835.5,349v1M836.5,349v1M837.5,349v1M838.5,350v1M839.5,350v1M840.5,350v1M841.5,350v1M842.5,351v1M843.5,351v1M844.5,351v1M845.5,351v1M846.5,350v1M847.5,350v1M848.5,350v1M849.5,350v1M850.5,349v1M851.5,349v1M852.5,349v1M853.5,349v1M854.5,349v1M855.5,349v1M856.5,349v1M857.5,349v1M858.5,349v1M859.5,349v1M860.5,349v1M861.5,349v1M862.5,350v1M863.5,350v1M864.5,350v1M865.5,350v1M866.5,349v1M867.5,349v1M868.5,349v1M869.5,349v1M870.5,348v1M871.5,348v1M872.5,348v1M873.5,348v1M874.5,347v1M875.5,347v1M876.5,347v1M877.5,346v1M878.5,346v1M879.5,345v1M880.5,344v1M881.5,343v1M882.5,342v1M883.5,341v1M884.5,340v1M885.5,339v1M886.5,338v1M887.5,336v2M888.5,333v3M889.5,331v2M890.5,328v3M891.5,326v2M892.5,324v2M893.5,322v2M894.5,320v2M895.5,318v2M896.5,316v2M897.5,314v2M898.5,312v2M899.5,309v3M900.5,307v2M901.5,305v2M902.5,303v2M903.5,300v3M904.5,298v2M905.5,295v3M906.5,293v2M907.5,290v3M908.5,288v2M909.5,285v3M910.5,283v2M911.5,281v2M912.5,279v2M913.5,278v1M914.5,276v2M915.5,274v2M916.5,272v2M917.5,270v2M918.5,268v2M919.5,267v1M920.5,265v2M921.5,263v2M922.5,261v2M923.5,259v2M924.5,257v2M925.5,255v2M926.5,253v2M927.5,251v2M928.5,249v2M929.5,247v2M930.5,245v2M931.5,242v3M932.5,240v2M933.5,238v2M934.5,236v2M935.5,234v2M936.5,232v2M937.5,230v2M938.5,228v2M939.5,226v2M940.5,224v2M941.5,221v3M942.5,219v2M943.5,216v3M944.5,213v3M945.5,210v3M946.5,207v3M947.5,204v3M948.5,201v3M949.5,197v4M950.5,194v3M951.5,191v3M952.5,188v3M953.5,185v3M954.5,182v3M955.5,179v3M956.5,176v3M957.5,172v4M958.5,169v3M959.5,166v3M960.5,164v2M961.5,161v3M962.5,159v2M963.5,156v3M964.5,154v2M965.5,152v2M966.5,150v2M967.5,147v3M968.5,145v2M969.5,142v3M970.5,140v2M971.5,138v2M972.5,138v1M973.5,137v1M974.5,137v1M975.5,136v1M976.5,135v1M977.5,134v1M978.5,133v1M979.5,132v1M980.5,132v1M981.5,131v1M982.5,131v1M983.5,130v1M984.5,130v1M985.5,130v1M986.5,129v1M987.5,129v1M988.5,129v1M989.5,129v1M990.5,128v1M991.5,128v1M992.5,128v1M993.5,128v1M994.5,127v1M995.5,127v1M996.5,126v1M997.5,126v1M998.5,125v1M999.5,124v1M1000.5,124v1M1001.5,124v1M1002.5,123v1M1003.5,123v1M1004.5,123v1M1005.5,123v1M1006.5,124v1M1007.5,124v1M1008.5,124v1M1009.5,124v1M1010.5,123v1M1011.5,123v1M1012.5,123v1M1013.5,123v1M1014.5,122v1M1015.5,122v1M1016.5,122v1M1017.5,122v1M1018.5,122v1M1019.5,122v1M1020.5,122v1M1021.5,121v1M1022.5,121v1M1023.5,120v1M1024.5,120v1M1025.5,120v1M1026.5,119v1M1027.5,119v1M1028.5,119v1M1029.5,119v1M1030.5,120v1M1031.5,120v1M1032.5,121v1M1033.5,121v1M1034.5,122v1M1035.5,123v1M1036.5,123v1M1037.5,124v1M1038.5,124v1M1039.5,125v1M1040.5,125v1M1041.5,126v1M1042.5,126v1M1043.5,127v1M1044.5,127v1M1045.5,127v1M1046.5,127v1M1047.5,127v1M1048.5,127v1M1049.5,127v1M1050.5,128v1M1051.5,128v1M1052.5,128v1M1053.5,129v1M1054.5,129v1M1055.5,130v1M1056.5,130v1M1057.5,130v1M1058.5,131v1M1059.5,131v1M1060.5,131v1M1061.5,131v1M1062.5,132v1M1063.5,132v1M1064.5,132v1M1065.5,132v1M1066.5,133v1M1067.5,133v1M1068.5,133v1M1069.5,133v1M1070.5,132v1M1071.5,132v1M1072.5,132v1M1073.5,131v1M1074.5,131v1M1075.5,130v1M1076.5,130v1M1077.5,129v1M1078.5,129v1M1079.5,128v1M1080.5,128v1M1081.5,128v1M1082.5,127v1M1083.5,127v1M1084.5,127v1M1085.5,127v1M1086.5,127v1M1087.5,127v1M1088.5,127v1M1089.5,126v1M1090.5,126v1M1091.5,125v1M1092.5,125v1M1093.5,125v1M1094.5,124v1M1095.5,124v1M1096.5,124v1M1097.5,124v1M1098.5,123v1M1099.5,123v1M1100.5,123v1M1101.5,123v1M1102.5,124v1M1103.5,124v1M1104.5,124v1M1105.5,124v1M1106.5,125v1M1107.5,125v1M1108.5,125v1M1109.5,126v1M1110.5,126v1M1111.5,127v1M1112.5,127v1M1113.5,127v1M1114.5,128v1M1115.5,128v1M1116.5,128v1M1117.5,129v1M1118.5,129v1M1119.5,130v1M1120.5,130v1M1121.5,131v1M1122.5,131v1M1123.5,132v1M1124.5,133v1M1125.5,134v1M1126.5,135v1M1127.5,136v1M1128.5,137v1M1129.5,138v1M1130.5,139v1M1131.5,140v1" stroke="#ffff00" stroke-width="1" fill="none" shape-rendering="crispEdges"/>
<path d="M3.5,366v1M4.5,365v1M5.5,365v1M6.5,364v1M7.5,363v1M8.5,363v1M9.5,363v1M10.5,363v1M11.5,363v1M12.5,362v1M13.5,362v1M14.5,361v1M15.5,360v1M16.5,359v1M17.5,359v1M18.5,358v1M19.5,357v1M20.5,357v1M21.5,357v1M22.5,356v1M23.5,356v1M24.5,356v1M25.5,355v1M26.5,355v1M27.5,354v1M28.5,354v1M29.5,354v1M30.5,353v1M31.5,353v1M32.5,352v1M33.5,351v1M34.5,350v1M35.5,349v1M36.5,348v1M37.5,347v1M38.5,346v1M39.5,345v1M40.5,344v1M41.5,342v2M42.5,341v1M43.5,340v1M44.5,339v1M45.5,339v1M46.5,338v1M47.5,337v1M48.5,336v1M49.5,336v1M50.5,335v1M51.5,334v1M52.5,333v1M53.5,331v2M54.5,330v1M55.5,329v1M56.5,329v1M57.5,329v1M58.5,328v1M59.5,328v1M60.5,327v1M61.5,327v1M62.5,326v1M63.5,325v1M64.5,324v1M65.5,322v2M66.5,321v1M67.5,320v1M68.5,319v1M69.5,319v1M70.5,318v1M71.5,317v1M72.5,316v1M73.5,315v1M74.5,314v1M75.5,313v1M76.5,312v1M77.5,312v1M78.5,311v1M79.5,310v1M80.5,309v1M81.5,308v1M82.5,307v1M83.5,306v1M84.5,305v1M85.5,304v1M86.5,303v1M87.5,302v1M88.5,302v1M89.5,301v1M90.5,301v1M91.5,300v1M92.5,299v1M93.5,298v1M94.5,297v1M95.5,296v1M96.5,295v1M97.5,295v1M98.5,294v1M99.5,293v1M100.5,291v2M101.5,290v1M102.5,288v2M103.5,287v1M104.5,287v1M105.5,287v1M106.5,287v1M107.5,287v1M108.5,287v1M109.5,288v1M110.5,288v1M111.5,289v1M112.5,289v1M113.5,289v1M114.5,288v1M115.5,288v1M116.5,288v1M117.5,288v1M118.5,289v1M119.5,289v1M120.5,289v1M121.5,290v1M122.5,290v1M123.5,291v1M124.5,291v1M125.5,291v1M126.5,291v1M127.5,291v1M128.5,291v1M129.5,291v1M130.5,291v1M131.5,291v1M132.5,291v1M133.5,290v1M134.5,290v1M135.5,289v1M136.5,289v1M137.5,289v1M138.5,289v1M139.5,289v1M140.5,289v1M141.5,289v1M142.5,290v1M143.5,290v1M144.5,290v1M145.5,291v1M146.5,291v1M147.5,292v1M148.5,293v1M149.5,294v1M150.5,295v1M151.5,296v1M152.5,296v1M153.5,297v1M154.5,297v1M155.5,298v1M156.5,299v1M157.5,299v1M158.5,300v1M159.5,301v1M160.5,301v1M161.5,301v1M162.5,300v1M163.5,300v1M164.5,300v1M165.5,299v1M166.5,299v1M167.5,298v1M168.5,298v1M169.5,297v1M170.5,297v1M171.5,296v1M172.5,296v1M173.5,295v1M174.5,295v1M175.5,294v1M176.5,294v1M177.5,293v1M178.5,293v1M179.5,292v1M180.5,292v1M181.5,292v1M182.5,292v1M183.5,292v1M184.5,292v1M185.5,292v1M186.5,293v1M187.5,293v1M188.5,293v1M189.5,293v1M190.5,294v1M191.5,294v1M192.5,295v1M193.5,296v1M194.5,297v1M195.5,298v1M196.5,299v2M197.5,301v1M198.5,302v2M199.5,304v1M200.5,305v1M201.5,306v1M202.5,307v1M203.5,308v1M204.5,309v1M205.5,309v1M206.5,310v1M207.5,311v1M208.5,312v1M209.5,313v1M210.5,314v1M211.5,315v1M212.5,315v1M213.5,316v1M214.5,316v1M215.5,317v1M216.5,317v1M217.5,318v1M218.5,318v1M219.5,319v1M220.5,320v1M221.5,321v1M222.5,322v1M223.5,323v1M224.5,324v1M225.5,325v1M226.5,326v1M227.5,327v1M228.5,328v1M229.5,328v1M230.5,329v1M231.5,330v1M232.5,331v1M233.5,332v1M234.5,333v1M235.5,334v1M236.5,335v1M237.5,336v1M238.5,337v1M239.5,338v1M240.5,338v1M241.5,339v1M242.5,339v1M243.5,340v1M244.5,341v1M245.5,342v1M246.5,343v1M247.5,344v1M248.5,343v1M249.5,343v1M250.5,342v1M251.5,341v1M252.5,340v1M253.5,340v1M254.5,339v1M255.5,338v1M256.5,338v1M257.5,337v1M258.5,337v1M259.5,336v1M260.5,336v1M261.5,336v1M262.5,335v1M263.5,335v1M264.5,335v1M265.5,335v1M266.5,336v1M267.5,336v1M268.5,336v1M269.5,337v1M270.5,337v1M271.5,338v1M272.5,338v1M273.5,339v1M274.5,339v1M275.5,340v1M276.5,340v1M277.5,340v1M278.5,340v1M279.5,340v1M280.5,340v1M281.5,340v1M282.5,340v1M283.5,340v1M284.5,340v1M285.5,340v1M286.5,341v1M287.5,341v1M288.5,341v1M289.5,342v1M290.5,342v1M291.5,343v1M292.5,344v1M293.5,344v1M294.5,345v1M295.5,346v1M296.5,347v1M297.5,348v1M298.5,349v1M299.5,350v1M300.5,351v2M301.5,353v1M302.5,354v2M303.5,356v2M304.5,358v2M305.5,360v2M306.5,362v2M307.5,364v3M308.5,367v2M309.5,369v2M310.5,371v2M311.5,373v3M312.5,376v2M313.5,378v2M314.5,380v2M315.5,382v3M316.5,385v2M317.5,387v2M318.5,389v2M319.5,391v2M320.5,393v2M321.5,395v2M322.5,397v2M323.5,399v2M324.5,401v2M325.5,403v2M326.5,405v2M327.5,407v1M328.5,408v1M329.5,409v1M330.5,410v1M331.5,411v1M332.5,412v1M333.5,413v1M334.5,414v1M335.5,415v1M336.5,416v1M337.5,417v2M338.5,419v1M339.5,420v1M340.5,421v2M341.5,423v1M342.5,424v2M343.5,426v1M344.5,427v1M345.5,428v1M346.5,429v1M347.5,430v1M348.5,431v2M349.5,433v2M350.5,435v2M351.5,437v1M352.5,438v2M353.5,440v1M354.5,441v2M355.5,443v1M356.5,444v1M357.5,445v1M358.5,446v1M359.5,447v1M360.5,448v2M361.5,450v1M362.5,451v2M363.5,453v1M364.5,454v1M365.5,454v1M366.5,455v1M367.5,456v1M368.5,456v1M369.5,456v1M370.5,456v1M371.5,456v1M372.5,456v1M373.5,456v1M374.5,456v1M375.5,456v1M376.5,456v1M377.5,456v1M378.5,456v1M379.5,456v1M380.5,456v1M381.5,456v1M382.5,456v1M383.5,456v1M384.5,456v1M385.5,456v1M386.5,457v1M387.5,457v1M388.5,457v1M389.5,457v1M390.5,458v1M391.5,458v1M392.5,458v1M393.5,458v1M394.5,459v1M395.5,459v1M396.5,459v1M397.5,459v1M398.5,460v1M399.5,460v1M400.5,460v1M401.5,460v1M402.5,461v1M403.5,461v1M404.5,461v1M405.5,460v1M406.5,460v1M407.5,459v1M408.5,459v1M409.5,459v1M410.5,458v1M411.5,458v1M412.5,458v1M413.5,458v1M414.5,457v1M415.5,457v1M416.5,456v1M417.5,456v1M418.5,455v1M419.5,454v1M420.5,454v1M421.5,454v1M422.5,454v1M423.5,454v1M424.5,454v1M425.5,455v1M426.5,455v1M427.5,456v1M428.5,457v1M429.5,458v2M430.5,460v1M431.5,461v1M432.5,462v1M433.5,463v2M434.5,465v1M435.5,466v1M436.5,467v2M437.5,469v2M438.5,471v2M439.5,473v1M440.5,474v2M441.5,476v2M442.5,478v2M443.5,480v1M444.5,481v2M445.5,483v1M446.5,484v2M447.5,486v1M448.5,487v2M449.5,489v1M450.5,490v2M451.5,492v1M452.5,493v1M453.5,494v1M454.5,495v1M455.5,496v1M456.5,497v2M457.5,499v1M458.5,500v2M459.5,502v1M460.5,503v1M461.5,504v1M462.5,505v1M463.5,506v1M464.5,507v1M465.5,507v1M466.5,508v1M467.5,509v1M468.5,509v1M469.5,510v1M470.5,510v1M471.5,511v1M472.5,511v1M473.5,511v1M474.5,512v1M475.5,512v1M476.5,512v1M477.5,512v1M478.5,513v1M479.5,513v1M480.5,513v1M481.5,513v1M482.5,514v1M483.5,514v1M484.5,514v1M485.5,514v1M486.5,513v1M487.5,513v1M488.5,513v1M489.5,512v1M490.5,512v1M491.5,511v1M492.5,510v1M493.5,510v1M494.5,509v1M495.5,508v1M496.5,507v1M497.5,507v1M498.5,506v1M499.5,505v1M500.5,505v1M501.5,505v1M502.5,506v1M503.5,506v1M504.5,506v1M505.5,506v1M506.5,507v1M507.5,507v1M508.5,507v1M509.5,506v1M510.5,506v1M511.5,505v1M512.5,505v1M513.5,505v1M514.5,505v1M515.5,505v1M516.5,505v1M517.5,505v1M518.5,505v1M519.5,505v1M520.5,505v1M521.5,505v1M522.5,504v1M523.5,504v1M524.5,504v1M525.5,504v1M526.5,504v1M527.5,504v1M528.5,504v1M529.5,504v1M530.5,505v1M531.5,505v1M532.5,505v1M533.5,505v1M534.5,504v1M535.5,504v1M536.5,504v1M537.5,503v1M538.5,503v1M539.5,502v1M540.5,502v1M541.5,502v1M542.5,503v1M543.5,503v1M544.5,503v1M545.5,503v1M546.5,503v1M547.5,503v1M548.5,503v1M549.5,503v1M550.5,504v1M551.5,504v1M552.5,504v1M553.5,504v1M554.5,503v1M555.5,503v1M556.5,503v1M557.5,502v1M558.5,502v1M559.5,501v1M560.5,501v1M561.5,501v1M562.5,501v1M563.5,501v1M564.5,501v1M565.5,501v1M566.5,500v1M567.5,500v1M568.5,500v1M569.5,500v1M570.5,501v1M571.5,501v1M572.5,501v1M573.5,501v1M574.5,502v1M575.5,502v1M576.5,502v1M577.5,502v1M578.5,503v1M579.5,503v1M580.5,504v1M581.5,505v1M582.5,506v1M583.5,507v1M584.5,507v1M585.5,507v1M586.5,508v1M587.5,508v1M588.5,508v1M589.5,508v1M590.5,509v1M591.5,509v1M592.5,509v1M593.5,509v1M594.5,508v1M595.5,508v1M596.5,508v1M597.5,508v1M598.5,507v1M599.5,507v1M600.5,507v1M601.5,506v1M602.5,506v1M603.5,505v1M604.5,505v1M605.5,504v1M606.5,504v1M607.5,503v1M608.5,503v1M609.5,502v1M610.5,502v1M611.5,501v1M612.5,501v1M613.5,501v1M614.5,500v1M615.5,500v1M616.5,500v1M617.5,500v1M618.5,499v1M619.5,499v1M620.5,499v1M621.5,499v1M622.5,498v1M623.5,498v1M624.5,497v1M625.5,497v1M626.5,496v1M627.5,495v1M628.5,494v1M629.5,492v2M630.5,491v1M631.5,490v1M632.5,488v2M633.5,487v1M634.5,485v2M635.5,483v2M636.5,481v2M637.5,479v2M638.5,477v2M639.5,475v2M640.5,473v2M641.5,471v2M642.5,469v2M643.5,466v3M644.5,464v2M645.5,462v2M646.5,460v2M647.5,457v3M648.5,454v3M649.5,450v4M650.5,447v3M651.5,444v3M652.5,441v3M653.5,438v3M654.5,435v3M655.5,432v3M656.5,429v3M657.5,427v2M658.5,424v3M659.5,421v3M660.5,418v3M661.5,414v4M662.5,411v3M663.5,408v3M664.5,404v4M665.5,401v3M666.5,397v4M667.5,394v3M668.5,391v3M669.5,387v4M670.5,384v3M671.5,381v3M672.5,378v3M673.5,374v4M674.5,371v3M675.5,368v3M676.5,365v3M677.5,361v4M678.5,358v3M679.5,355v3M680.5,352v3M681.5,348v4M682.5,345v3M683.5,342v3M684.5,340v2M685.5,338v2M686.5,336v2M687.5,334v2M688.5,332v2M689.5,330v2M690.5,328v2M691.5,326v2M692.5,324v2M693.5,322v2M694.5,320v2M695.5,319v1M696.5,317v2M697.5,316v1M698.5,314v2M699.5,313v1M700.5,311v2M701.5,310v1M702.5,308v2M703.5,307v1M704.5,307v1M705.5,307v1M706.5,306v1M707.5,306v1M708.5,306v1M709.5,306v1M710.5,305v1M711.5,305v1M712.5,305v1M713.5,305v1M714.5,304v1M715.5,304v1M716.5,304v1M717.5,304v1M718.5,304v1M719.5,304v1M720.5,304v1M721.5,304v1M722.5,305v1M723.5,305v1M724.5,305v1M725.5,305v1M726.5,304v1M727.5,304v1M728.5,304v1M729.5,304v1M730.5,303v1M731.5,303v1M732.5,303v1M733.5,303v1M734.5,304v1M735.5,304v1M736.5,304v1M737.5,304v1M738.5,304v1M739.5,304v1M740.5,304v1M741.5,304v1M742.5,303v1M743.5,303v1M744.5,303v1M745.5,302v1M746.5,302v1M747.5,301v1M748.5,301v1M749.5,301v1M750.5,300v1M751.5,300v1M752.5,301v1M753.5,301v1M754.5,302v1M755.5,303v1M756.5,304v1M757.5,304v1M758.5,305v1M759.5,306v1M760.5,307v1M761.5,308v2M762.5,310v1M763.5,311v1M764.5,312v1M765.5,312v1M766.5,313v1M767.5,314v1M768.5,315v1M769.5,315v1M770.5,316v1M771.5,317v1M772.5,318v1M773.5,318v1M774.5,319v1M775.5,320v1M776.5,321v1M777.5,321v1M778.5,322v1M779.5,323v1M780.5,324v1M781.5,325v2M782.5,327v1M783.5,328v1M784.5,329v1M785.5,330v2M786.5,332v1M787.5,333v1M788.5,334v1M789.5,335v2M790.5,337v1M791.5,338v1M792.5,338v1M793.5,339v1M794.5,339v1M795.5,340v1M796.5,341v1M797.5,342v1M798.5,343v1M799.5,344v1M800.5,345v1M801.5,346v1M802.5,347v1M803.5,348v1M804.5,349v1M805.5,349v1M806.5,350v1M807.5,351v1M808.5,351v1M809.5,351v1M810.5,351v1M811.5,351v1M812.5,351v1M813.5,351v1M814.5,351v1M815.5,351v1M816.5,351v1M817.5,351v1M818.5,350v1M819.5,350v1M820.5,350v1M821.5,350v1M822.5,349v1M823.5,349v1M824.5,349v1M825.5,349v1M826.5,348v1M827.5,348v1M828.5,348v1M829.5,348v1M830.5,349v1M831.5,349v1M832.5,349v1M833.5,349v1M834.5,349v1M835.5,349v1M836.5,349v1M837.5,349v1M838.5,349v1M839.5,349v1M840.5,349v1M841.5,349v1M842.5,349v1M843.5,349v1M844.5,349v1M845.5,348v1M846.5,348v1M847.5,347v1M848.5,347v1M849.5,347v1M850.5,347v1M851.5,347v1M852.5,347v1M853.5,347v1M854.5,347v1M855.5,347v1M856.5,347v1M857.5,347v1M858.5,347v1M859.5,347v1M860.5,347v1M861.5,347v1M862.5,348v1M863.5,348v1M864.5,348v1M865.5,348v1M866.5,349v1M867.5,349v1M868.5,349v1M869.5,349v1M870.5,349v1M871.5,349v1M872.5,349v1M873.5,349v1M874.5,348v1M875.5,348v1M876.5,348v1M877.5,347v1M878.5,347v1M879.5,346v1M880.5,344v2M881.5,343v1M882.5,341v2M883.5,340v1M884.5,338v2M885.5,336v2M886.5,334v2M887.5,331v3M888.5,327v4M889.5,323v4M890.5,319v4M891.5,315v4M892.5,312v3M893.5,309v3M894.5,306v3M895.5,303v3M896.5,299v4M897.5,295v4M898.5,291v4M899.5,288v3M900.5,285v3M901.5,281v4M902.5,278v3M903.5,275v3M904.5,271v4M905.5,268v3M906.5,264v4M907.5,261v3M908.5,257v4M909.5,253v4M910.5,249v4M911.5,246v3M912.5,244v2M913.5,242v2M914.5,240v2M915.5,237v3M916.5,234v3M917.5,231v3M918.5,228v3M919.5,225v3M920.5,222v3M921.5,220v2M922.5,217v3M923.5,214v3M924.5,211v3M925.5,209v2M926.5,206v3M927.5,203v3M928.5,200v3M929.5,197v3M930.5,194v3M931.5,191v3M932.5,188v3M933.5,186v2M934.5,183v3M935.5,181v2M936.5,179v2M937.5,178v1M938.5,176v2M939.5,174v2M940.5,172v2M941.5,170v2M942.5,168v2M943.5,167v1M944.5,167v1M945.5,167v1M946.5,167v1M947.5,166v2M948.5,164v2M949.5,162v2M950.5,160v2M951.5,159v1M952.5,158v1M953.5,156v2M954.5,155v1M955.5,154v1M956.5,152v2M957.5,151v1M958.5,149v2M959.5,148v1M960.5,147v1M961.5,147v1M962.5,146v1M963.5,145v1M964.5,144v1M965.5,142v2M966.5,141v1M967.5,139v2M968.5,136v3M969.5,133v3M970.5,130v3M971.5,127v3M972.5,125v2M973.5,123v2M974.5,121v2M975.5,119v2M976.5,117v2M977.5,116v1M978.5,114v2M979.5,113v1M980.5,111v2M981.5,109v2M982.5,107v2M983.5,106v1M984.5,106v1M985.5,105v1M986.5,105v1M987.5,104v1M988.5,103v1M989.5,103v1M990.5,102v1M991.5,101v1M992.5,100v1M993.5,100v1M994.5,99v1M995.5,98v1M996.5,98v1M997.5,98v1M998.5,98v1M999.5,98v1M1000.5,99v1M1001.5,100v2M1002.5,102v1M1003.5,103v2M1004.5,105v2M1005.5,107v2M1006.5,109v2M1007.5,111v2M1008.5,113v2M1009.5,115v2M1010.5,117v2M1011.5,119v1M1012.5,120v2M1013.5,122v1M1014.5,123v2M1015.5,125v1M1016.5,126v1M1017.5,126v1M1018.5,127v1M1019.5,128v1M1020.5,129v1M1021.5,130v2M1022.5,132v1M1023.5,133v1M1024.5,134v1M1025.5,135v2M1026.5,137v1M1027.5,138v1M1028.5,139v1M1029.5,140v2M1030.5,142v1M1031.5,143v1M1032.5,143v1M1033.5,144v1M1034.5,144v1M1035.5,145v1M1036.5,145v1M1037.5,145v1M1038.5,146v1M1039.5,146v1M1040.5,146v1M1041.5,146v1M1042.5,145v1M1043.5,145v1M1044.5,145v1M1045.5,144v1M1046.5,144v1M1047.5,143v1M1048.5,143v1M1049.5,142v1M1050.5,142v1M1051.5,141v1M1052.5,140v1M1053.5,139v1M1054.5,138v1M1055.5,137v1M1056.5,135v2M1057.5,134v1M1058.5,132v2M1059.5,131v1M1060.5,130v1M1061.5,128v2M1062.5,127v1M1063.5,126v1M1064.5,125v1M1065.5,124v1M1066.5,123v1M1067.5,122v1M1068.5,121v1M1069.5,121v1M1070.5,120v1M1071.5,119v1M1072.5,118v1M1073.5,116v2M1074.5,115v1M1075.5,114v1M1076.5,113v1M1077.5,112v1M1078.5,111v1M1079.5,110v1M1080.5,110v1M1081.5,110v1M1082.5,111v1M1083.5,111v1M1084.5,111v1M1085.5,112v1M1086.5,112v1M1087.5,113v1M1088.5,113v1M1089.5,114v1M1090.5,114v1M1091.5,115v1M1092.5,116v1M1093.5,116v1M1094.5,117v1M1095.5,118v1M1096.5,118v1M1097.5,118v1M1098.5,119v1M1099.5,119v1M1100.5,120v1M1101.5,121v2M1102.5,123v1M1103.5,124v1M1104.5,125v1M1105.5,126v1M1106.5,127v1M1107.5,128v1M1108.5,129v2M1109.5,131v1M1110.5,132v2M1111.5,134v1M1112.5,135v1M1113.5,136v1M1114.5,137v1M1115.5,138v1M1116.5,139v1M1117.5,140v2M1118.5,142v1M1119.5,143v1M1120.5,143v1M1121.5,144v1M1122.5,144v1M1123.5,145v1M1124.5,146v1M1125.5,147v2M1126.5,149v1M1127.5,150v2M1128.5,152v2M1129.5,154v2M1130.5,156v2M1131.5,158v1" stroke="#ff0000" stroke-width="1" fill="none" shape-rendering="crispEdges"/>
<path d="M3.5,366v1M4.5,365v1M5.5,365v1M6.5,364v1M7.5,363v1M8.5,362v1M9.5,362v1M10.5,361v1M11.5,360v1M12.5,359v1M13.5,358v1M14.5,357v1M15.5,356v1M16.5,355v1M17.5,353v2M18.5,352v1M19.5,351v1M20.5,350v1M21.5,349v1M22.5,348v1M23.5,347v1M24.5,346v1M25.5,344v2M26.5,343v1M27.5,342v1M28.5,342v1M29.5,341v1M30.5,341v1M31.5,340v1M32.5,339v1M33.5,337v2M34.5,336v1M35.5,335v1M36.5,334v1M37.5,332v2M38.5,331v1M39.5,330v1M40.5,328v2M41.5,327v1M42.5,325v2M43.5,324v1M44.5,324v1M45.5,324v1M46.5,324v1M47.5,324v1M48.5,323v1M49.5,323v1M50.5,322v1M51.5,321v1M52.5,320v1M53.5,319v1M54.5,318v1M55.5,317v1M56.5,317v1M57.5,317v1M58.5,316v1M59.5,316v1M60.5,316v1M61.5,316v1M62.5,315v1M63.5,315v1M64.5,314v1M65.5,313v1M66.5,312v1M67.5,311v1M68.5,311v1M69.5,311v1M70.5,310v1M71.5,309v2M72.5,307v2M73.5,305v2M74.5,303v2M75.5,301v2M76.5,301v1M77.5,300v1M78.5,300v1M79.5,299v1M80.5,298v1M81.5,297v1M82.5,296v1M83.5,295v1M84.5,293v2M85.5,292v1M86.5,290v2M87.5,289v1M88.5,288v1M89.5,288v1M90.5,287v1M91.5,286v1M92.5,285v1M93.5,284v1M94.5,283v1M95.5,282v1M96.5,281v1M97.5,279v2M98.5,278v1M99.5,277v1M100.5,276v1M101.5,274v2M102.5,273v1M103.5,272v1M104.5,273v1M105.5,273v1M106.5,274v1M107.5,275v2M108.5,277v2M109.5,279v2M110.5,281v2M111.5,283v1M112.5,284v1M113.5,285v2M114.5,287v1M115.5,288v1M116.5,289v1M117.5,290v1M118.5,291v1M119.5,292v2M120.5,294v2M121.5,296v2M122.5,298v2M123.5,300v1M124.5,301v1M125.5,302v2M126.5,304v1M127.5,305v1M128.5,306v1M129.5,307v1M130.5,308v1M131.5,309v1M132.5,307v2M133.5,306v1M134.5,304v2M135.5,303v1M136.5,301v2M137.5,299v2M138.5,297v2M139.5,296v1M140.5,295v1M141.5,295v1M142.5,294v1M143.5,293v1M144.5,293v1M145.5,292v1M146.5,292v1M147.5,291v1M148.5,291v1M149.5,291v1M150.5,292v1M151.5,292v1M152.5,292v1M153.5,292v1M154.5,292v1M155.5,292v1M156.5,292v1M157.5,292v1M158.5,292v1M159.5,292v1M160.5,293v2M161.5,295v1M162.5,296v2M163.5,298v1M164.5,298v1M165.5,299v1M166.5,299v1M167.5,300v1M168.5,300v1M169.5,300v1M170.5,299v1M171.5,299v1M172.5,299v1M173.5,298v1M174.5,298v1M175.5,297v1M176.5,296v1M177.5,294v2M178.5,293v1M179.5,292v1M180.5,292v1M181.5,292v1M182.5,291v1M183.5,291v1M184.5,291v1M185.5,292v1M186.5,292v1M187.5,293v1M188.5,292v1M189.5,292v1M190.5,291v1M191.5,290v1M192.5,291v2M193.5,293v2M194.5,295v2M195.5,297v2M196.5,299v3M197.5,302v4M198.5,306v3M199.5,309v3M200.5,312v2M201.5,314v3M202.5,317v2M203.5,319v3M204.5,322v2M205.5,324v3M206.5,327v2M207.5,329v3M208.5,332v2M209.5,334v2M210.5,336v2M211.5,338v1M212.5,338v1M213.5,339v1M214.5,339v1M215.5,340v2M216.5,342v2M217.5,344v2M218.5,346v2M219.5,348v1M220.5,348v1M221.5,348v1M222.5,349v1M223.5,349v1M224.5,348v1M225.5,347v1M226.5,346v1M227.5,345v1M228.5,344v1M229.5,342v2M230.5,341v1M231.5,340v1M232.5,340v1M233.5,339v1M234.5,339v1M235.5,338v1M236.5,338v1M237.5,338v1M238.5,338v1M239.5,338v1M240.5,338v1M241.5,339v1M242.5,339v1M243.5,340v1M244.5,340v1M245.5,340v1M246.5,340v1M247.5,340v1M248.5,338v2M249.5,336v2M250.5,334v2M251.5,333v1M252.5,332v1M253.5,332v1M254.5,331v1M255.5,330v1M256.5,330v1M257.5,330v1M258.5,331v1M259.5,331v1M260.5,331v1M261.5,331v1M262.5,332v1M263.5,332v1M264.5,332v1M265.5,332v1M266.5,333v1M267.5,333v1M268.5,334v1M269.5,335v1M270.5,336v1M271.5,337v1M272.5,338v1M273.5,338v1M274.5,339v1M275.5,340v1M276.5,341v2M277.5,343v2M278.5,345v2M279.5,347v1M280.5,348v1M281.5,348v1M282.5,349v1M283.5,350v1M284.5,350v1M285.5,350v1M286.5,351v1M287.5,351v1M288.5,352v1M289.5,353v1M290.5,354v1M291.5,355v1M292.5,356v1M293.5,357v1M294.5,358v1M295.5,359v1M296.5,360v1M297.5,361v1M298.5,362v1M299.5,363v2M300.5,365v2M301.5,367v2M302.5,369v2M303.5,371v2M304.5,373v3M305.5,376v2M306.5,378v3M307.5,381v4M308.5,385v4M309.5,389v4M310.5,393v4M311.5,397v4M312.5,401v4M313.5,405v4M314.5,409v4M315.5,413v4M316.5,417v3M317.5,420v4M318.5,424v3M319.5,427v3M320.5,430v3M321.5,433v2M322.5,435v3M323.5,438v3M324.5,441v3M325.5,444v2M326.5,446v3M327.5,449v2M328.5,450v1M329.5,450v1M330.5,450v1M331.5,450v1M332.5,450v1M333.5,450v1M334.5,449v1M335.5,448v2M336.5,446v2M337.5,444v2M338.5,442v2M339.5,441v1M340.5,440v1M341.5,439v1M342.5,438v1M343.5,437v1M344.5,436v1M345.5,435v1M346.5,434v1M347.5,433v1M348.5,433v1M349.5,433v1M350.5,434v1M351.5,434v1M352.5,434v1M353.5,435v1M354.5,435v1M355.5,436v2M356.5,438v2M357.5,440v2M358.5,442v2M359.5,444v2M360.5,446v3M361.5,449v4M362.5,453v3M363.5,456v3M364.5,459v4M365.5,463v3M366.5,466v4M367.5,470v2M368.5,472v1M369.5,473v2M370.5,475v1M371.5,476v1M372.5,477v1M373.5,477v1M374.5,478v1M375.5,479v1M376.5,479v1M377.5,479v1M378.5,478v1M379.5,478v1M380.5,477v1M381.5,477v1M382.5,476v1M383.5,475v1M384.5,474v1M385.5,472v2M386.5,471v1M387.5,469v2M388.5,467v2M389.5,464v3M390.5,462v2M391.5,459v3M392.5,456v3M393.5,452v4M394.5,449v3M395.5,447v2M396.5,447v1M397.5,446v1M398.5,446v1M399.5,445v1M400.5,445v1M401.5,445v1M402.5,444v1M403.5,444v1M404.5,443v1M405.5,443v1M406.5,442v1M407.5,441v1M408.5,441v1M409.5,441v1M410.5,441v1M411.5,441v1M412.5,441v1M413.5,442v1M414.5,442v1M415.5,443v1M416.5,444v2M417.5,446v1M418.5,447v2M419.5,449v2M420.5,451v3M421.5,454v3M422.5,457v3M423.5,460v2M424.5,462v2M425.5,464v1M426.5,465v2M427.5,467v2M428.5,469v3M429.5,472v2M430.5,474v3M431.5,477v3M432.5,480v4M433.5,484v3M434.5,487v4M435.5,491v3M436.5,494v3M437.5,497v3M438.5,500v3M439.5,503v3M440.5,506v3M441.5,509v4M442.5,513v3M443.5,516v2M444.5,518v2M445.5,520v1M446.5,521v2M447.5,523v1M448.5,523v1M449.5,523v1M450.5,523v1M451.5,523v1M452.5,523v1M453.5,524v1M454.5,524v1M455.5,525v1M456.5,525v1M457.5,525v1M458.5,525v1M459.5,525v1M460.5,524v1M461.5,522v2M462.5,521v1M463.5,520v1M464.5,518v2M465.5,517v1M466.5,515v2M467.5,513v2M468.5,511v2M469.5,509v2M470.5,507v2M471.5,506v1M472.5,505v1M473.5,503v2M474.5,502v1M475.5,501v1M476.5,501v1M477.5,502v1M478.5,502v1M479.5,503v1M480.5,503v1M481.5,503v1M482.5,503v1M483.5,503v1M484.5,503v1M485.5,502v1M486.5,502v1M487.5,501v1M488.5,501v1M489.5,501v1M490.5,501v1M491.5,501v1M492.5,501v1M493.5,501v1M494.5,502v1M495.5,502v1M496.5,503v1M497.5,503v1M498.5,504v1M499.5,505v1M500.5,506v2M501.5,508v1M502.5,509v2M503.5,511v1M504.5,511v1M505.5,511v1M506.5,511v1M507.5,511v1M508.5,510v1M509.5,510v1M510.5,509v1M511.5,508v1M512.5,508v1M513.5,508v1M514.5,509v1M515.5,509v1M516.5,509v1M517.5,509v1M518.5,508v1M519.5,508v1M520.5,508v1M521.5,507v1M522.5,507v1M523.5,506v1M524.5,505v1M525.5,505v1M526.5,504v1M527.5,503v1M528.5,502v1M529.5,500v2M530.5,499v1M531.5,498v1M532.5,498v1M533.5,498v1M534.5,497v1M535.5,497v1M536.5,497v1M537.5,497v1M538.5,497v1M539.5,497v1M540.5,497v1M541.5,497v1M542.5,497v1M543.5,497v1M544.5,497v1M545.5,497v1M546.5,497v1M547.5,497v1M548.5,498v1M549.5,499v1M550.5,500v1M551.5,501v1M552.5,502v1M553.5,502v1M554.5,503v1M555.5,504v1M556.5,504v1M557.5,504v1M558.5,504v1M559.5,504v1M560.5,504v1M561.5,504v1M562.5,504v1M563.5,504v1M564.5,504v1M565.5,504v1M566.5,504v1M567.5,504v1M568.5,504v1M569.5,504v1M570.5,505v1M571.5,505v1M572.5,505v1M573.5,505v1M574.5,506v1M575.5,506v1M576.5,506v1M577.5,506v1M578.5,506v1M579.5,506v1M580.5,507v1M581.5,508v2M582.5,510v1M583.5,511v1M584.5,511v1M585.5,511v1M586.5,512v1M587.5,512v1M588.5,512v1M589.5,512v1M590.5,513v1M591.5,513v1M592.5,513v1M593.5,513v1M594.5,513v1M595.5,513v1M596.5,512v1M597.5,511v1M598.5,510v1M599.5,509v1M600.5,507v2M601.5,506v1M602.5,504v2M603.5,503v1M604.5,502v1M605.5,502v1M606.5,501v1M607.5,499v2M608.5,497v2M609.5,495v2M610.5,493v2M611.5,492v1M612.5,491v1M613.5,489v2M614.5,488v1M615.5,487v1M616.5,487v1M617.5,486v1M618.5,486v1M619.5,485v1M620.5,484v1M621.5,484v1M622.5,483v1M623.5,482v1M624.5,482v1M625.5,482v1M626.5,482v1M627.5,482v1M628.5,481v1M629.5,479v2M630.5,478v1M631.5,476v2M632.5,474v2M633.5,472v2M634.5,470v2M635.5,468v2M636.5,466v2M637.5,464v2M638.5,462v2M639.5,459v3M640.5,455v4M641.5,452v3M642.5,448v4M643.5,444v4M644.5,440v4M645.5,436v4M646.5,432v4M647.5,428v4M648.5,422v6M649.5,416v6M650.5,410v6M651.5,405v5M652.5,399v6M653.5,393v6M654.5,387v6M655.5,382v5M656.5,378v4M657.5,374v4M658.5,370v4M659.5,366v4M660.5,362v4M661.5,357v5M662.5,353v4M663.5,348v5M664.5,343v5M665.5,339v4M666.5,334v5M667.5,330v4M668.5,327v3M669.5,323v4M670.5,320v3M671.5,317v3M672.5,314v3M673.5,312v2M674.5,309v3M675.5,307v2M676.5,307v1M677.5,306v1M678.5,306v1M679.5,305v1M680.5,304v1M681.5,303v1M682.5,302v1M683.5,301v1M684.5,301v1M685.5,301v1M686.5,300v1M687.5,300v1M688.5,301v1M689.5,301v1M690.5,302v1M691.5,303v1M692.5,304v1M693.5,305v1M694.5,306v1M695.5,307v1M696.5,307v1M697.5,307v1M698.5,307v1M699.5,307v1M700.5,307v1M701.5,307v1M702.5,306v1M703.5,306v1M704.5,306v1M705.5,306v1M706.5,307v1M707.5,307v1M708.5,307v1M709.5,308v1M710.5,308v1M711.5,309v1M712.5,309v1M713.5,308v1M714.5,308v1M715.5,307v1M716.5,307v1M717.5,306v1M718.5,306v1M719.5,305v1M720.5,305v1M721.5,305v1M722.5,304v1M723.5,304v1M724.5,304v1M725.5,303v1M726.5,303v1M727.5,302v1M728.5,302v1M729.5,302v1M730.5,301v1M731.5,301v1M732.5,301v1M733.5,301v1M734.5,301v1M735.5,301v1M736.5,301v1M737.5,301v1M738.5,300v1M739.5,300v1M740.5,300v1M741.5,300v1M742.5,299v1M743.5,299v1M744.5,299v1M745.5,299v1M746.5,298v1M747.5,298v1M748.5,298v1M749.5,298v1M750.5,297v1M751.5,297v1M752.5,298v2M753.5,300v2M754.5,302v2M755.5,304v1M756.5,305v2M757.5,307v2M758.5,309v2M759.5,311v2M760.5,313v2M761.5,315v2M762.5,317v2M763.5,319v3M764.5,322v2M765.5,324v2M766.5,326v2M767.5,328v2M768.5,330v2M769.5,332v2M770.5,334v2M771.5,336v1M772.5,337v2M773.5,339v1M774.5,340v2M775.5,342v1M776.5,343v2M777.5,345v2M778.5,347v2M779.5,349v1M780.5,350v1M781.5,350v1M782.5,351v1M783.5,352v1M784.5,353v1M785.5,353v1M786.5,354v1M787.5,355v1M788.5,355v1M789.5,355v1M790.5,355v1M791.5,355v1M792.5,355v1M793.5,354v1M794.5,354v1M795.5,353v1M796.5,353v1M797.5,353v1M798.5,352v1M799.5,352v1M800.5,352v1M801.5,353v1M802.5,353v1M803.5,354v1M804.5,354v1M805.5,353v1M806.5,353v1M807.5,352v1M808.5,352v1M809.5,351v1M810.5,351v1M811.5,350v1M812.5,349v1M813.5,348v1M814.5,347v1M815.5,346v1M816.5,346v1M817.5,345v1M818.5,345v1M819.5,344v1M820.5,344v1M821.5,344v1M822.5,344v1M823.5,344v1M824.5,344v1M825.5,344v1M826.5,344v1M827.5,344v1M828.5,344v1M829.5,344v1M830.5,344v1M831.5,344v1M832.5,345v1M833.5,345v1M834.5,346v1M835.5,347v1M836.5,347v1M837.5,347v1M838.5,348v1M839.5,348v1M840.5,349v1M841.5,349v1M842.5,350v1M843.5,351v1M844.5,351v1M845.5,351v1M846.5,351v1M847.5,351v1M848.5,351v1M849.5,351v1M850.5,350v1M851.5,350v1M852.5,350v1M853.5,350v1M854.5,349v1M855.5,349v1M856.5,349v1M857.5,349v1M858.5,349v1M859.5,349v1M860.5,349v1M861.5,349v1M862.5,350v1M863.5,350v1M864.5,350v1M865.5,350v1M866.5,349v1M867.5,349v1M868.5,349v1M869.5,348v1M870.5,348v1M871.5,347v1M872.5,347v1M873.5,347v1M874.5,346v1M875.5,346v1M876.5,345v1M877.5,344v1M878.5,343v1M879.5,341v2M880.5,338v3M881.5,335v3M882.5,332v3M883.5,329v3M884.5,326v3M885.5,322v4M886.5,319v3M887.5,313v6M888.5,304v9M889.5,296v8M890.5,287v9M891.5,280v7M892.5,274v6M893.5,268v6M894.5,262v6M895.5,256v6M896.5,249v7M897.5,243v6M898.5,236v7M899.5,229v7M900.5,223v6M901.5,216v7M902.5,210v6M903.5,203v7M904.5,197v6M905.5,191v6M906.5,185v6M907.5,179v6M908.5,175v4M909.5,171v4M910.5,167v4M911.5,164v3M912.5,163v1M913.5,161v2M914.5,160v1M915.5,159v2M916.5,161v3M917.5,164v2M918.5,166v3M919.5,169v2M920.5,170v1M921.5,170v1M922.5,171v1M923.5,171v1M924.5,172v2M925.5,174v1M926.5,175v2M927.5,177v1M928.5,177v1M929.5,177v1M930.5,178v1M931.5,178v1M932.5,179v1M933.5,179v1M934.5,180v1M935.5,181v1M936.5,182v1M937.5,183v2M938.5,185v1M939.5,185v2M940.5,182v3M941.5,180v2M942.5,177v3M943.5,174v3M944.5,171v3M945.5,169v2M946.5,166v3M947.5,162v4M948.5,158v4M949.5,154v4M950.5,150v4M951.5,145v5M952.5,141v4M953.5,137v4M954.5,133v4M955.5,130v3M956.5,127v3M957.5,123v4M958.5,120v3M959.5,117v3M960.5,115v2M961.5,112v3M962.5,110v2M963.5,107v3M964.5,103v4M965.5,100v3M966.5,96v4M967.5,93v3M968.5,90v3M969.5,86v4M970.5,83v3M971.5,81v2M972.5,79v2M973.5,78v1M974.5,76v2M975.5,75v1M976.5,76v1M977.5,76v1M978.5,77v1M979.5,78v1M980.5,79v1M981.5,80v1M982.5,81v1M983.5,82v2M984.5,84v2M985.5,86v2M986.5,88v2M987.5,90v2M988.5,92v1M989.5,92v1M990.5,93v1M991.5,94v2M992.5,96v2M993.5,98v2M994.5,100v2M995.5,102v2M996.5,104v4M997.5,108v3M998.5,111v4M999.5,115v3M1000.5,118v4M1001.5,122v4M1002.5,126v4M1003.5,130v3M1004.5,133v4M1005.5,137v3M1006.5,140v4M1007.5,144v3M1008.5,147v2M1009.5,149v3M1010.5,152v2M1011.5,154v2M1012.5,156v1M1013.5,156v1M1014.5,157v1M1015.5,158v1M1016.5,159v1M1017.5,160v2M1018.5,162v1M1019.5,163v1M1020.5,163v1M1021.5,163v1M1022.5,164v1M1023.5,164v1M1024.5,163v1M1025.5,162v1M1026.5,161v1M1027.5,160v1M1028.5,158v2M1029.5,157v1M1030.5,155v2M1031.5,153v2M1032.5,151v2M1033.5,149v2M1034.5,147v2M1035.5,145v2M1036.5,143v2M1037.5,141v2M1038.5,139v2M1039.5,137v2M1040.5,136v1M1041.5,134v2M1042.5,133v1M1043.5,131v2M1044.5,129v2M1045.5,127v2M1046.5,125v2M1047.5,124v1M1048.5,122v2M1049.5,121v1M1050.5,119v2M1051.5,118v1M1052.5,117v1M1053.5,116v1M1054.5,115v1M1055.5,114v1M1056.5,113v1M1057.5,111v2M1058.5,110v1M1059.5,109v1M1060.5,108v1M1061.5,107v1M1062.5,106v1M1063.5,105v1M1064.5,106v1M1065.5,106v1M1066.5,107v1M1067.5,108v1M1068.5,108v1M1069.5,107v1M1070.5,107v1M1071.5,106v1M1072.5,106v1M1073.5,105v1M1074.5,105v1M1075.5,104v1M1076.5,104v1M1077.5,103v1M1078.5,103v1M1079.5,102v1M1080.5,103v2M1081.5,105v1M1082.5,106v2M1083.5,108v2M1084.5,110v2M1085.5,112v3M1086.5,115v2M1087.5,117v2M1088.5,119v2M1089.5,121v2M1090.5,123v2M1091.5,125v1M1092.5,126v1M1093.5,126v1M1094.5,127v1M1095.5,128v1M1096.5,129v1M1097.5,130v1M1098.5,131v1M1099.5,132v2M1100.5,134v3M1101.5,137v2M1102.5,139v3M1103.5,142v3M1104.5,145v3M1105.5,148v2M1106.5,150v3M1107.5,153v2M1108.5,155v1M1109.5,156v2M1110.5,158v1M1111.5,159v1M1112.5,159v1M1113.5,159v1M1114.5,159v1M1115.5,159v1M1116.5,159v1M1117.5,159v1M1118.5,160v1M1119.5,160v1M1120.5,160v1M1121.5,160v1M1122.5,161v1M1123.5,161v2M1124.5,163v2M1125.5,165v2M1126.5,167v2M1127.5,169v1M1128.5,170v1M1129.5,170v1M1130.5,171v1M1131.5,172v1" stroke="#0000cd" stroke-width="1" fill="none" shape-rendering="crispEdges"/>
<g shape-rendering="crispEdges">
<rect x="3" y="42" width="1415" height="3" fill="#ff0000" />
<rect x="2" y="40" width="7" height="7" fill="#ff0000" />
<rect x="5" y="43" width="1" height="1" fill="#ffffff" />
<rect x="1412" y="40" width="7" height="7" fill="#ff0000" />
<rect x="1415" y="43" width="1" height="1" fill="#ffffff" />
<rect x="3" y="137" width="1415" height="3" fill="#ff0000" />
<rect x="2" y="135" width="7" height="7" fill="#ff0000" />
<rect x="5" y="138" width="1" height="1" fill="#ffffff" />
<rect x="1412" y="135" width="7" height="7" fill="#ff0000" />
<rect x="1415" y="138" width="1" height="1" fill="#ffffff" />
<rect x="3" y="232" width="1415" height="3" fill="#00ff00" />
<rect x="2" y="230" width="7" height="7" fill="#00ff00" />
<rect x="5" y="233" width="1" height="1" fill="#ffffff" />
<rect x="1412" y="230" width="7" height="7" fill="#00ff00" />
<rect x="1415" y="233" width="1" height="1" fill="#ffffff" />
<rect x="3" y="327" width="1415" height="3" fill="#0000ff" />
<rect x="2" y="325" width="7" height="7" fill="#0000ff" />
<rect x="5" y="328" width="1" height="1" fill="#ffffff" />
<rect x="1412" y="325" width="7" height="7" fill="#0000ff" />
<rect x="1415" y="328" width="1" height="1" fill="#ffffff" />
<rect x="3" y="403" width="1415" height="3" fill="#0000ff" />
</g>
<g shape-rendering="crispEdges">
<rect x="3" y="614" width="1" height="12" fill="#c0c0c0" />
<rect x="7" y="613" width="1" height="13" fill="#c0c0c0" />
<rect x="11" y="613" width="1" height="13" fill="#c0c0c0" />
<rect x="15" y="612" width="1" height="14" fill="#c0c0c0" />
<rect x="19" y="612" width="1" height="14" fill="#c0c0c0" />
<rect x="23" y="611" width="1" height="15" fill="#c0c0c0" />
<rect x="27" y="611" width="1" height="15" fill="#c0c0c0" />
<rect x="31" y="610" width="1" height="16" fill="#c0c0c0" />
<rect x="35" y="608" width="1" height="18" fill="#c0c0c0" />
<rect x="39" y="607" width="1" height="19" fill="#c0c0c0" />
<rect x="43" y="606" width="1" height="20" fill="#c0c0c0" />
<rect x="47" y="608" width="1" height="18" fill="#c0c0c0" />
<rect x="51" y="607" width="1" height="19" fill="#c0c0c0" />
<rect x="55" y="607" width="1" height="19" fill="#c0c0c0" />
<rect x="59" y="608" width="1" height="18" fill="#c0c0c0" />
<rect x="63" y="607" width="1" height="19" fill="#c0c0c0" />
<rect x="67" y="605" width="1" height="21" fill="#c0c0c0" />
<rect x="71" y="605" width="1" height="21" fill="#c0c0c0" />
<rect x="75" y="604" width="1" height="22" fill="#c0c0c0" />
<rect x="79" y="604" width="1" height="22" fill="#c0c0c0" />
<rect x="83" y="604" width="1" height="22" fill="#c0c0c0" />
<rect x="87" y="604" width="1" height="22" fill="#c0c0c0" />
<rect x="91" y="604" width="1" height="22" fill="#c0c0c0" />
<rect x="95" y="602" width="1" height="24" fill="#c0c0c0" />
<rect x="99" y="601" width="1" height="25" fill="#c0c0c0" />
<rect x="103" y="600" width="1" height="26" fill="#c0c0c0" />
<rect x="107" y="604" width="1" height="22" fill="#c0c0c0" />
<rect x="111" y="610" width="1" height="16" fill="#c0c0c0" />
<rect x="115" y="613" width="1" height="13" fill="#c0c0c0" />
<rect x="119" y="615" width="1" height="11" fill="#c0c0c0" />
<rect x="123" y="617" width="1" height="9" fill="#c0c0c0" />
<rect x="127" y="617" width="1" height="9" fill="#c0c0c0" />
<rect x="131" y="617" width="1" height="9" fill="#c0c0c0" />
<rect x="135" y="615" width="1" height="11" fill="#c0c0c0" />
<rect x="139" y="615" width="1" height="11" fill="#c0c0c0" />
<rect x="143" y="616" width="1" height="10" fill="#c0c0c0" />
<rect x="147" y="617" width="1" height="9" fill="#c0c0c0" />
<rect x="151" y="619" width="1" height="7" fill="#c0c0c0" />
<rect x="155" y="620" width="1" height="6" fill="#c0c0c0" />
<rect x="159" y="619" width="1" height="7" fill="#c0c0c0" />
<rect x="163" y="621" width="1" height="5" fill="#c0c0c0" />
<rect x="167" y="621" width="1" height="5" fill="#c0c0c0" />
<rect x="171" y="621" width="1" height="5" fill="#c0c0c0" />
<rect x="175" y="620" width="1" height="6" fill="#c0c0c0" />
<rect x="179" y="619" width="1" height="7" fill="#c0c0c0" />
<rect x="183" y="620" width="1" height="6" fill="#c0c0c0" />
<rect x="187" y="621" width="1" height="5" fill="#c0c0c0" />
<rect x="191" y="620" width="1" height="6" fill="#c0c0c0" />
<rect x="195" y="625" width="1" height="2" fill="#c0c0c0" />
<rect x="199" y="625" width="1" height="8" fill="#c0c0c0" />
<rect x="203" y="625" width="1" height="11" fill="#c0c0c0" />
<rect x="207" y="625" width="1" height="13" fill="#c0c0c0" />
<rect x="211" y="625" width="1" height="14" fill="#c0c0c0" />
<rect x="215" y="625" width="1" height="12" fill="#c0c0c0" />
<rect x="219" y="625" width="1" height="12" fill="#c0c0c0" />
<rect x="223" y="625" width="1" height="14" fill="#c0c0c0" />
<rect x="227" y="625" width="1" height="14" fill="#c0c0c0" />
<rect x="231" y="625" width="1" height="13" fill="#c0c0c0" />
<rect x="235" y="625" width="1" height="12" fill="#c0c0c0" />
<rect x="239" y="625" width="1" height="12" fill="#c0c0c0" />
<rect x="243" y="625" width="1" height="10" fill="#c0c0c0" />
<rect x="247" y="625" width="1" height="10" fill="#c0c0c0" />
<rect x="251" y="625" width="1" height="7" fill="#c0c0c0" />
<rect x="255" y="625" width="1" height="7" fill="#c0c0c0" />
<rect x="259" y="625" width="1" height="7" fill="#c0c0c0" />
<rect x="263" y="625" width="1" height="7" fill="#c0c0c0" />
<rect x="267" y="625" width="1" height="8" fill="#c0c0c0" />
<rect x="271" y="625" width="1" height="9" fill="#c0c0c0" />
<rect x="275" y="625" width="1" height="10" fill="#c0c0c0" />
<rect x="279" y="625" width="1" height="11" fill="#c0c0c0" />
<rect x="283" y="625" width="1" height="11" fill="#c0c0c0" />
<rect x="287" y="625" width="1" height="10" fill="#c0c0c0" />
<rect x="291" y="625" width="1" height="11" fill="#c0c0c0" />
<rect x="295" y="625" width="1" height="13" fill="#c0c0c0" />
<rect x="299" y="625" width="1" height="14" fill="#c0c0c0" />
<rect x="303" y="625" width="1" height="18" fill="#c0c0c0" />
<rect x="307" y="625" width="1" height="23" fill="#c0c0c0" />
<rect x="311" y="625" width="1" height="28" fill="#c0c0c0" />
<rect x="315" y="625" width="1" height="33" fill="#c0c0c0" />
<rect x="319" y="625" width="1" height="35" fill="#c0c0c0" />
<rect x="323" y="625" width="1" height="37" fill="#c0c0c0" />
<rect x="327" y="625" width="1" height="37" fill="#c0c0c0" />
<rect x="331" y="625" width="1" height="34" fill="#c0c0c0" />
<rect x="335" y="625" width="1" height="32" fill="#c0c0c0" />
<rect x="339" y="625" width="1" height="28" fill="#c0c0c0" />
<rect x="343" y="625" width="1" height="27" fill="#c0c0c0" />
<rect x="347" y="625" width="1" height="26" fill="#c0c0c0" />
<rect x="351" y="625" width="1" height="28" fill="#c0c0c0" />
<rect x="355" y="625" width="1" height="29" fill="#c0c0c0" />
<rect x="359" y="625" width="1" height="30" fill="#c0c0c0" />
<rect x="363" y="625" width="1" height="34" fill="#c0c0c0" />
<rect x="367" y="625" width="1" height="36" fill="#c0c0c0" />
<rect x="371" y="625" width="1" height="34" fill="#c0c0c0" />
<rect x="375" y="625" width="1" height="30" fill="#c0c0c0" />
<rect x="379" y="625" width="1" height="28" fill="#c0c0c0" />
<rect x="383" y="625" width="1" height="25" fill="#c0c0c0" />
<rect x="387" y="625" width="1" height="22" fill="#c0c0c0" />
<rect x="391" y="625" width="1" height="19" fill="#c0c0c0" />
<rect x="395" y="625" width="1" height="15" fill="#c0c0c0" />
<rect x="399" y="625" width="1" height="14" fill="#c0c0c0" />
<rect x="403" y="625" width="1" height="13" fill="#c0c0c0" />
<rect x="407" y="625" width="1" height="11" fill="#c0c0c0" />
<rect x="411" y="625" width="1" height="11" fill="#c0c0c0" />
<rect x="415" y="625" width="1" height="10" fill="#c0c0c0" />
<rect x="419" y="625" width="1" height="13" fill="#c0c0c0" />
<rect x="423" y="625" width="1" height="16" fill="#c0c0c0" />
<rect x="427" y="625" width="1" height="18" fill="#c0c0c0" />
<rect x="431" y="625" width="1" height="21" fill="#c0c0c0" />
<rect x="435" y="625" width="1" height="25" fill="#c0c0c0" />
<rect x="439" y="625" width="1" height="27" fill="#c0c0c0" />
<rect x="443" y="625" width="1" height="29" fill="#c0c0c0" />
<rect x="447" y="625" width="1" height="29" fill="#c0c0c0" />
<rect x="451" y="625" width="1" height="27" fill="#c0c0c0" />
<rect x="455" y="625" width="1" height="26" fill="#c0c0c0" />
<rect x="459" y="625" width="1" height="25" fill="#c0c0c0" />
<rect x="463" y="625" width="1" height="23" fill="#c0c0c0" />
<rect x="467" y="625" width="1" height="20" fill="#c0c0c0" />
<rect x="471" y="625" width="1" height="18" fill="#c0c0c0" />
<rect x="475" y="625" width="1" height="15" fill="#c0c0c0" />
<rect x="479" y="625" width="1" height="15" fill="#c0c0c0" />
<rect x="483" y="625" width="1" height="16" fill="#c0c0c0" />
<rect x="487" y="625" width="1" height="14" fill="#c0c0c0" />
<rect x="491" y="625" width="1" height="13" fill="#c0c0c0" />
<rect x="495" y="625" width="1" height="12" fill="#c0c0c0" />
<rect x="499" y="625" width="1" height="12" fill="#c0c0c0" />
<rect x="503" y="625" width="1" height="13" fill="#c0c0c0" />
<rect x="507" y="625" width="1" height="13" fill="#c0c0c0" />
<rect x="511" y="625" width="1" height="11" fill="#c0c0c0" />
<rect x="515" y="625" width="1" height="10" fill="#c0c0c0" />
<rect x="519" y="625" width="1" height="9" fill="#c0c0c0" />
<rect x="523" y="625" width="1" height="6" fill="#c0c0c0" />
<rect x="527" y="625" width="1" height="4" fill="#c0c0c0" />
<rect x="531" y="625" width="1" height="4" fill="#c0c0c0" />
<rect x="535" y="625" width="1" height="4" fill="#c0c0c0" />
<rect x="539" y="625" width="1" height="4" fill="#c0c0c0" />
<rect x="543" y="625" width="1" height="4" fill="#c0c0c0" />
<rect x="547" y="625" width="1" height="4" fill="#c0c0c0" />
<rect x="551" y="625" width="1" height="5" fill="#c0c0c0" />
<rect x="555" y="625" width="1" height="5" fill="#c0c0c0" />
<rect x="559" y="625" width="1" height="4" fill="#c0c0c0" />
<rect x="563" y="625" width="1" height="4" fill="#c0c0c0" />
<rect x="567" y="625" width="1" height="3" fill="#c0c0c0" />
<rect x="571" y="625" width="1" height="4" fill="#c0c0c0" />
<rect x="575" y="625" width="1" height="5" fill="#c0c0c0" />
<rect x="579" y="625" width="1" height="4" fill="#c0c0c0" />
<rect x="583" y="625" width="1" height="7" fill="#c0c0c0" />
<rect x="587" y="625" width="1" height="7" fill="#c0c0c0" />
<rect x="591" y="625" width="1" height="6" fill="#c0c0c0" />
<rect x="595" y="625" width="1" height="4" fill="#c0c0c0" />
<rect x="599" y="625" width="1" height="2" fill="#c0c0c0" />
<rect x="603" y="624" width="1" height="2" fill="#c0c0c0" />
<rect x="607" y="622" width="1" height="4" fill="#c0c0c0" />
<rect x="611" y="621" width="1" height="5" fill="#c0c0c0" />
<rect x="615" y="621" width="1" height="5" fill="#c0c0c0" />
<rect x="619" y="621" width="1" height="5" fill="#c0c0c0" />
<rect x="623" y="619" width="1" height="7" fill="#c0c0c0" />
<rect x="627" y="619" width="1" height="7" fill="#c0c0c0" />
<rect x="631" y="615" width="1" height="11" fill="#c0c0c0" />
<rect x="635" y="612" width="1" height="14" fill="#c0c0c0" />
<rect x="639" y="608" width="1" height="18" fill="#c0c0c0" />
<rect x="643" y="603" width="1" height="23" fill="#c0c0c0" />
<rect x="647" y="598" width="1" height="28" fill="#c0c0c0" />
<rect x="651" y="590" width="1" height="36" fill="#c0c0c0" />
<rect x="655" y="584" width="1" height="42" fill="#c0c0c0" />
<rect x="659" y="580" width="1" height="46" fill="#c0c0c0" />
<rect x="663" y="576" width="1" height="50" fill="#c0c0c0" />
<rect x="667" y="572" width="1" height="54" fill="#c0c0c0" />
<rect x="671" y="570" width="1" height="56" fill="#c0c0c0" />
<rect x="675" y="570" width="1" height="56" fill="#c0c0c0" />
<rect x="679" y="569" width="1" height="57" fill="#c0c0c0" />
<rect x="683" y="570" width="1" height="56" fill="#c0c0c0" />
<rect x="687" y="573" width="1" height="53" fill="#c0c0c0" />
<rect x="691" y="576" width="1" height="50" fill="#c0c0c0" />
<rect x="695" y="578" width="1" height="48" fill="#c0c0c0" />
<rect x="699" y="579" width="1" height="47" fill="#c0c0c0" />
<rect x="703" y="581" width="1" height="45" fill="#c0c0c0" />
<rect x="707" y="582" width="1" height="44" fill="#c0c0c0" />
<rect x="711" y="585" width="1" height="41" fill="#c0c0c0" />
<rect x="715" y="588" width="1" height="38" fill="#c0c0c0" />
<rect x="719" y="590" width="1" height="36" fill="#c0c0c0" />
<rect x="723" y="591" width="1" height="35" fill="#c0c0c0" />
<rect x="727" y="592" width="1" height="34" fill="#c0c0c0" />
<rect x="731" y="593" width="1" height="33" fill="#c0c0c0" />
<rect x="735" y="595" width="1" height="31" fill="#c0c0c0" />
<rect x="739" y="597" width="1" height="29" fill="#c0c0c0" />
<rect x="743" y="599" width="1" height="27" fill="#c0c0c0" />
<rect x="747" y="600" width="1" height="26" fill="#c0c0c0" />
<rect x="751" y="602" width="1" height="24" fill="#c0c0c0" />
<rect x="755" y="606" width="1" height="20" fill="#c0c0c0" />
<rect x="759" y="610" width="1" height="16" fill="#c0c0c0" />
<rect x="763" y="616" width="1" height="10" fill="#c0c0c0" />
<rect x="767" y="620" width="1" height="6" fill="#c0c0c0" />
<rect x="771" y="623" width="1" height="3" fill="#c0c0c0" />
<rect x="775" y="624" width="1" height="2" fill="#c0c0c0" />
<rect x="779" y="625" width="1" height="1" fill="#c0c0c0" />
<rect x="783" y="625" width="1" height="3" fill="#c0c0c0" />
<rect x="787" y="625" width="1" height="4" fill="#c0c0c0" />
<rect x="791" y="625" width="1" height="7" fill="#c0c0c0" />
<rect x="795" y="625" width="1" height="6" fill="#c0c0c0" />
<rect x="799" y="625" width="1" height="6" fill="#c0c0c0" />
<rect x="803" y="625" width="1" height="6" fill="#c0c0c0" />
<rect x="807" y="625" width="1" height="5" fill="#c0c0c0" />
<rect x="811" y="625" width="1" height="4" fill="#c0c0c0" />
<rect x="815" y="625" width="1" height="3" fill="#c0c0c0" />
<rect x="819" y="625" width="1" height="4" fill="#c0c0c0" />
<rect x="823" y="625" width="1" height="4" fill="#c0c0c0" />
<rect x="827" y="625" width="1" height="4" fill="#c0c0c0" />
<rect x="831" y="625" width="1" height="4" fill="#c0c0c0" />
<rect x="835" y="625" width="1" height="4" fill="#c0c0c0" />
<rect x="839" y="625" width="1" height="4" fill="#c0c0c0" />
<rect x="843" y="625" width="1" height="5" fill="#c0c0c0" />
<rect x="847" y="625" width="1" height="4" fill="#c0c0c0" />
<rect x="851" y="625" width="1" height="4" fill="#c0c0c0" />
<rect x="855" y="625" width="1" height="3" fill="#c0c0c0" />
<rect x="859" y="625" width="1" height="3" fill="#c0c0c0" />
<rect x="863" y="625" width="1" height="4" fill="#c0c0c0" />
<rect x="867" y="625" width="1" height="3" fill="#c0c0c0" />
<rect x="871" y="625" width="1" height="2" fill="#c0c0c0" />
<rect x="875" y="625" width="1" height="2" fill="#c0c0c0" />
<rect x="879" y="623" width="1" height="3" fill="#c0c0c0" />
<rect x="883" y="617" width="1" height="9" fill="#c0c0c0" />
<rect x="887" y="611" width="1" height="15" fill="#c0c0c0" />
<rect x="891" y="595" width="1" height="31" fill="#c0c0c0" />
<rect x="895" y="589" width="1" height="37" fill="#c0c0c0" />
<rect x="899" y="581" width="1" height="45" fill="#c0c0c0" />
<rect x="903" y="577" width="1" height="49" fill="#c0c0c0" />
<rect x="907" y="572" width="1" height="54" fill="#c0c0c0" />
<rect x="911" y="569" width="1" height="57" fill="#c0c0c0" />
<rect x="915" y="574" width="1" height="52" fill="#c0c0c0" />
<rect x="919" y="576" width="1" height="50" fill="#c0c0c0" />
<rect x="923" y="578" width="1" height="48" fill="#c0c0c0" />
<rect x="927" y="581" width="1" height="45" fill="#c0c0c0" />
<rect x="931" y="581" width="1" height="45" fill="#c0c0c0" />
<rect x="935" y="581" width="1" height="45" fill="#c0c0c0" />
<rect x="939" y="583" width="1" height="43" fill="#c0c0c0" />
<rect x="943" y="583" width="1" height="43" fill="#c0c0c0" />
<rect x="947" y="579" width="1" height="47" fill="#c0c0c0" />
<rect x="951" y="575" width="1" height="51" fill="#c0c0c0" />
<rect x="955" y="572" width="1" height="54" fill="#c0c0c0" />
<rect x="959" y="570" width="1" height="56" fill="#c0c0c0" />
<rect x="963" y="571" width="1" height="55" fill="#c0c0c0" />
<rect x="967" y="571" width="1" height="55" fill="#c0c0c0" />
<rect x="971" y="569" width="1" height="57" fill="#c0c0c0" />
<rect x="975" y="570" width="1" height="56" fill="#c0c0c0" />
<rect x="979" y="573" width="1" height="53" fill="#c0c0c0" />
<rect x="983" y="577" width="1" height="49" fill="#c0c0c0" />
<rect x="987" y="583" width="1" height="43" fill="#c0c0c0" />
<rect x="991" y="588" width="1" height="38" fill="#c0c0c0" />
<rect x="995" y="592" width="1" height="34" fill="#c0c0c0" />
<rect x="999" y="598" width="1" height="28" fill="#c0c0c0" />
<rect x="1003" y="605" width="1" height="21" fill="#c0c0c0" />
<rect x="1007" y="612" width="1" height="14" fill="#c0c0c0" />
<rect x="1011" y="616" width="1" height="10" fill="#c0c0c0" />
<rect x="1015" y="617" width="1" height="9" fill="#c0c0c0" />
<rect x="1019" y="619" width="1" height="7" fill="#c0c0c0" />
<rect x="1023" y="618" width="1" height="8" fill="#c0c0c0" />
<rect x="1027" y="617" width="1" height="9" fill="#c0c0c0" />
<rect x="1031" y="617" width="1" height="9" fill="#c0c0c0" />
<rect x="1035" y="617" width="1" height="9" fill="#c0c0c0" />
<rect x="1039" y="616" width="1" height="10" fill="#c0c0c0" />
<rect x="1043" y="615" width="1" height="11" fill="#c0c0c0" />
<rect x="1047" y="612" width="1" height="14" fill="#c0c0c0" />
<rect x="1051" y="611" width="1" height="15" fill="#c0c0c0" />
<rect x="1055" y="610" width="1" height="16" fill="#c0c0c0" />
<rect x="1059" y="609" width="1" height="17" fill="#c0c0c0" />
<rect x="1063" y="610" width="1" height="16" fill="#c0c0c0" />
<rect x="1067" y="613" width="1" height="13" fill="#c0c0c0" />
<rect x="1071" y="613" width="1" height="13" fill="#c0c0c0" />
<rect x="1075" y="611" width="1" height="15" fill="#c0c0c0" />
<rect x="1079" y="610" width="1" height="16" fill="#c0c0c0" />
<rect x="1083" y="613" width="1" height="13" fill="#c0c0c0" />
<rect x="1087" y="618" width="1" height="8" fill="#c0c0c0" />
<rect x="1091" y="623" width="1" height="3" fill="#c0c0c0" />
<rect x="1095" y="625" width="1" height="1" fill="#c0c0c0" />
<rect x="1099" y="625" width="1" height="1" fill="#c0c0c0" />
<rect x="1103" y="625" width="1" height="4" fill="#c0c0c0" />
<rect x="1107" y="625" width="1" height="6" fill="#c0c0c0" />
<rect x="1111" y="625" width="1" height="8" fill="#c0c0c0" />
<rect x="1115" y="625" width="1" height="9" fill="#c0c0c0" />
<rect x="1119" y="625" width="1" height="11" fill="#c0c0c0" />
<rect x="1123" y="625" width="1" height="11" fill="#c0c0c0" />
<rect x="1127" y="625" width="1" height="13" fill="#c0c0c0" />
<rect x="1131" y="625" width="1" height="14" fill="#c0c0c0" />
</g>
<path d="M3.5,613v1M4.5,613v1M5.5,613v1M9.5,613v1M10.5,613v1M11.5,613v1M15.5,613v1M16.5,613v1M17.5,613v1M21.5,613v1M22.5,613v1M23.5,613v1M27.5,613v1M28.5,613v1M29.5,613v1M33.5,612v1M34.5,611v1M35.5,611v1M39.5,611v1M40.5,611v1M41.5,611v1M45.5,610v1M46.5,609v1M47.5,609v1M51.5,609v1M52.5,609v1M53.5,609v1M57.5,608v1M58.5,608v1M59.5,608v1M63.5,608v1M64.5,608v1M65.5,608v1M69.5,607v1M70.5,607v1M71.5,607v1M75.5,606v1M76.5,606v1M77.5,606v1M81.5,606v1M82.5,606v1M83.5,606v1M87.5,605v1M88.5,605v1M89.5,605v1M93.5,605v1M94.5,604v1M95.5,604v1M99.5,604v1M100.5,604v1M101.5,604v1M105.5,603v1M106.5,603v1M107.5,603v1M111.5,604v1M112.5,604v1M113.5,604v1M117.5,605v1M118.5,606v1M119.5,606v1M123.5,607v1M124.5,607v1M125.5,608v1M129.5,610v1M130.5,610v1M131.5,611v1M135.5,612v1M136.5,612v1M137.5,613v1M141.5,614v1M142.5,615v1M143.5,615v1M147.5,616v1M148.5,616v1M149.5,616v1M153.5,616v1M154.5,617v1M155.5,617v1M159.5,617v1M160.5,617v1M161.5,617v1M165.5,618v1M166.5,618v1M167.5,618v1M171.5,619v1M172.5,619v1M173.5,619v1M177.5,619v1M178.5,620v1M179.5,620v1M183.5,620v1M184.5,620v1M185.5,620v1M189.5,620v1M190.5,620v1M191.5,620v1M195.5,621v1M196.5,621v1M197.5,621v1M201.5,623v1M202.5,623v1M203.5,624v1M207.5,626v1M208.5,626v1M209.5,627v1M213.5,628v1M214.5,629v1M215.5,629v1M219.5,631v1M220.5,631v1M221.5,632v1M225.5,634v1M226.5,634v1M227.5,635v1M231.5,636v1M232.5,636v1M233.5,636v1M237.5,637v1M238.5,637v1M239.5,637v1M243.5,637v1M244.5,637v1M245.5,637v1M249.5,636v1M250.5,636v1M251.5,636v1M255.5,635v1M256.5,635v1M257.5,635v1M261.5,634v1M262.5,633v1M263.5,633v1M267.5,633v1M268.5,633v1M269.5,633v1M273.5,633v1M274.5,632v1M275.5,632v1M279.5,632v1M280.5,632v1M281.5,632v1M285.5,633v1M286.5,633v1M287.5,633v1M291.5,633v1M292.5,633v1M293.5,633v1M297.5,634v1M298.5,635v1M299.5,635v1M303.5,636v1M304.5,636v1M305.5,637v1M309.5,639v1M310.5,639v1M311.5,640v1M315.5,642v1M316.5,643v1M317.5,643v1M321.5,646v1M322.5,647v1M323.5,648v1M327.5,650v1M328.5,651v1M329.5,651v1M333.5,654v1M334.5,654v1M335.5,655v1M339.5,656v1M340.5,656v1M341.5,656v1M345.5,656v1M346.5,656v1M347.5,656v1M351.5,655v1M352.5,655v1M353.5,655v1M357.5,655v1M358.5,654v1M359.5,654v1M363.5,654v1M364.5,654v1M365.5,654v1M369.5,654v1M370.5,654v1M371.5,654v1M375.5,654v1M376.5,654v1M377.5,654v1M381.5,655v1M382.5,655v1M383.5,655v1M387.5,654v1M388.5,654v1M389.5,654v1M393.5,652v1M394.5,652v1M395.5,651v1M399.5,649v1M400.5,648v1M401.5,648v1M405.5,645v1M406.5,645v1M407.5,644v1M411.5,642v1M412.5,642v1M413.5,641v1M417.5,639v1M418.5,639v1M419.5,638v1M423.5,638v1M424.5,638v1M425.5,638v1M429.5,637v1M430.5,638v1M431.5,638v1M435.5,639v1M436.5,639v1M437.5,640v1M441.5,642v1M442.5,642v1M443.5,643v1M447.5,645v1M448.5,645v1M449.5,646v1M453.5,647v1M454.5,648v1M455.5,648v1M459.5,649v1M460.5,649v1M461.5,649v1M465.5,650v1M466.5,650v1M467.5,650v1M471.5,649v1M472.5,649v1M473.5,649v1M477.5,647v1M478.5,647v1M479.5,646v1M483.5,645v1M484.5,645v1M485.5,644v1M489.5,643v1M490.5,642v1M491.5,642v1M495.5,640v1M496.5,640v1M497.5,640v1M501.5,639v1M502.5,638v1M503.5,638v1M507.5,638v1M508.5,638v1M509.5,638v1M513.5,637v1M514.5,637v1M515.5,637v1M519.5,636v1M520.5,636v1M521.5,636v1M525.5,635v1M526.5,634v1M527.5,634v1M531.5,633v1M532.5,633v1M533.5,633v1M537.5,632v1M538.5,631v1M539.5,631v1M543.5,630v1M544.5,630v1M545.5,630v1M549.5,630v1M550.5,629v1M551.5,629v1M555.5,629v1M556.5,629v1M557.5,629v1M561.5,628v1M562.5,628v1M563.5,628v1M567.5,628v1M568.5,628v1M569.5,628v1M573.5,628v1M574.5,628v1M575.5,628v1M579.5,628v1M580.5,628v1M581.5,628v1M585.5,629v1M586.5,629v1M587.5,629v1M591.5,629v1M592.5,629v1M593.5,629v1M597.5,629v1M598.5,629v1M599.5,629v1M603.5,628v1M604.5,628v1M605.5,628v1M609.5,628v1M610.5,627v1M611.5,627v1M615.5,626v1M616.5,626v1M617.5,626v1M621.5,625v1M622.5,624v1M623.5,624v1M627.5,622v1M628.5,622v1M629.5,622v1M633.5,620v1M634.5,620v1M635.5,619v1M639.5,618v1M640.5,618v1M641.5,617v1M645.5,615v1M646.5,614v1M647.5,613v1M651.5,610v1M652.5,609v1M653.5,608v1M656.5,604v1M657.5,603v1M658.5,602v1M661.5,598v1M662.5,597v1M663.5,596v1M666.5,592v1M667.5,591v1M668.5,590v1M672.5,586v1M673.5,584v2M677.5,581v1M678.5,580v1M679.5,579v1M683.5,576v1M684.5,576v1M685.5,575v1M689.5,574v1M690.5,573v1M691.5,573v1M695.5,573v1M696.5,573v1M697.5,573v1M701.5,573v1M702.5,574v1M703.5,574v1M707.5,575v1M708.5,575v1M709.5,576v1M713.5,578v1M714.5,578v1M715.5,579v1M719.5,581v1M720.5,581v1M721.5,582v1M725.5,584v1M726.5,584v1M727.5,585v1M731.5,587v1M732.5,587v1M733.5,588v1M737.5,589v1M738.5,590v1M739.5,590v1M743.5,592v1M744.5,592v1M745.5,593v1M749.5,594v1M750.5,595v1M751.5,595v1M755.5,597v1M756.5,597v1M757.5,598v1M761.5,600v1M762.5,601v1M763.5,602v1M767.5,605v1M768.5,606v1M769.5,606v1M773.5,609v1M774.5,610v1M775.5,611v1M779.5,614v1M780.5,615v1M781.5,615v1M785.5,618v1M786.5,619v1M787.5,620v1M791.5,623v1M792.5,623v1M793.5,624v1M797.5,625v1M798.5,626v1M799.5,626v1M803.5,628v1M804.5,628v1M805.5,628v1M809.5,628v1M810.5,629v1M811.5,629v1M815.5,629v1M816.5,629v1M817.5,629v1M821.5,629v1M822.5,629v1M823.5,629v1M827.5,629v1M828.5,629v1M829.5,629v1M833.5,628v1M834.5,628v1M835.5,628v1M839.5,628v1M840.5,628v1M841.5,628v1M845.5,628v1M846.5,628v1M847.5,628v1M851.5,628v1M852.5,628v1M853.5,628v1M857.5,628v1M858.5,628v1M859.5,628v1M863.5,628v1M864.5,628v1M865.5,628v1M869.5,628v1M870.5,628v1M871.5,628v1M875.5,627v1M876.5,627v1M877.5,627v1M881.5,627v1M882.5,626v1M883.5,626v1M887.5,624v1M888.5,623v1M889.5,622v1M893.5,618v1M894.5,617v1M895.5,616v1M898.5,612v1M899.5,611v1M900.5,610v1M902.5,606v1M903.5,605v1M904.5,604v1M906.5,600v1M907.5,599v1M908.5,598v1M910.5,594v1M911.5,593v1M912.5,592v1M914.5,588v1M915.5,587v1M916.5,586v1M920.5,582v1M921.5,581v1M922.5,580v1M926.5,578v1M927.5,578v1M928.5,578v1M932.5,577v1M933.5,577v1M934.5,577v1M938.5,577v1M939.5,577v1M940.5,577v1M944.5,579v1M945.5,579v1M946.5,580v1M950.5,580v1M951.5,580v1M952.5,580v1M956.5,579v1M957.5,579v1M958.5,578v1M962.5,577v1M963.5,577v1M964.5,577v1M968.5,576v1M969.5,576v1M970.5,575v1M974.5,574v1M975.5,573v1M976.5,573v1M980.5,572v1M981.5,572v1M982.5,572v1M986.5,573v1M987.5,573v1M988.5,573v1M992.5,575v1M993.5,576v1M994.5,576v1M998.5,579v1M999.5,580v1M1000.5,581v1M1004.5,585v1M1005.5,586v2M1009.5,591v2M1010.5,593v1M1013.5,597v1M1014.5,598v1M1015.5,599v1M1019.5,603v1M1020.5,604v1M1021.5,605v1M1025.5,608v1M1026.5,609v1M1027.5,610v1M1031.5,613v1M1032.5,613v1M1033.5,614v1M1037.5,616v1M1038.5,616v1M1039.5,617v1M1043.5,617v1M1044.5,617v1M1045.5,617v1M1049.5,617v1M1050.5,616v1M1051.5,616v1M1055.5,615v1M1056.5,615v1M1057.5,615v1M1061.5,614v1M1062.5,613v1M1063.5,613v1M1067.5,613v1M1068.5,613v1M1069.5,613v1M1073.5,612v1M1074.5,611v1M1075.5,611v1M1079.5,611v1M1080.5,611v1M1081.5,611v1M1085.5,611v1M1086.5,612v1M1087.5,612v1M1091.5,613v1M1092.5,613v1M1093.5,614v1M1097.5,616v1M1098.5,616v1M1099.5,617v1M1103.5,618v1M1104.5,618v1M1105.5,619v1M1109.5,621v1M1110.5,622v1M1111.5,623v1M1115.5,625v1M1116.5,626v1M1117.5,626v1M1121.5,628v1M1122.5,629v1M1123.5,629v1M1127.5,631v1M1128.5,631v1M1129.5,631v1" stroke="#ff0000" stroke-width="1" fill="none" shape-rendering="crispEdges"/>
<text x="7" y="576.5" font-size="10.1" fill="#000" text-anchor="start" font-weight="normal" textLength="154" lengthAdjust="spacingAndGlyphs"  stroke="#000" stroke-width="0.18">MACD(12,26,9) -0.013271 -0.007740</text>
<g shape-rendering="crispEdges">
<line x1="1417" y1="708.5" x2="3" y2="708.5" stroke="#c0c0c0" stroke-dasharray="3,3"/>
<line x1="1417" y1="759.5" x2="3" y2="759.5" stroke="#c0c0c0" stroke-dasharray="3,3"/>
</g>
<path d="M3.5,724v1M4.5,724v1M5.5,724v1M6.5,724v1M7.5,724v1M8.5,725v1M9.5,725v1M10.5,726v1M11.5,727v1M12.5,726v1M13.5,726v1M14.5,725v1M15.5,724v1M16.5,724v1M17.5,725v1M18.5,725v1M19.5,726v1M20.5,725v1M21.5,724v1M22.5,723v1M23.5,722v1M24.5,722v1M25.5,723v1M26.5,723v1M27.5,724v1M28.5,724v1M29.5,724v1M30.5,723v1M31.5,723v1M32.5,721v2M33.5,720v1M34.5,718v2M35.5,717v1M36.5,718v1M37.5,719v1M38.5,720v1M39.5,721v1M40.5,720v1M41.5,718v2M42.5,717v1M43.5,716v3M44.5,719v4M45.5,723v4M46.5,727v4M47.5,731v3M48.5,730v2M49.5,727v3M50.5,725v2M51.5,723v2M52.5,723v1M53.5,723v1M54.5,724v1M55.5,724v1M56.5,725v1M57.5,725v1M58.5,726v1M59.5,727v1M60.5,726v1M61.5,725v1M62.5,724v1M63.5,723v1M64.5,722v1M65.5,721v1M66.5,720v1M67.5,719v1M68.5,719v1M69.5,720v1M70.5,720v1M71.5,721v1M72.5,721v1M73.5,721v1M74.5,720v1M75.5,720v1M76.5,720v1M77.5,720v1M78.5,721v1M79.5,721v1M80.5,721v1M81.5,720v1M82.5,720v1M83.5,719v1M84.5,719v1M85.5,719v1M86.5,718v1M87.5,718v1M88.5,718v1M89.5,718v1M90.5,719v1M91.5,719v1M92.5,717v2M93.5,716v1M94.5,714v2M95.5,713v1M96.5,713v1M97.5,713v1M98.5,714v1M99.5,714v1M100.5,714v1M101.5,713v1M102.5,713v1M103.5,712v3M104.5,715v6M105.5,721v5M106.5,726v6M107.5,732v4M108.5,736v2M109.5,738v2M110.5,740v2M111.5,742v1M112.5,740v2M113.5,738v2M114.5,736v2M115.5,735v1M116.5,735v1M117.5,735v1M118.5,735v1M119.5,735v1M120.5,735v1M121.5,734v1M122.5,734v1M123.5,733v1M124.5,732v1M125.5,731v1M126.5,730v1M127.5,729v1M128.5,728v1M129.5,728v1M130.5,727v1M131.5,726v1M132.5,725v1M133.5,723v2M134.5,722v1M135.5,721v2M136.5,723v2M137.5,725v2M138.5,727v2M139.5,729v1M140.5,729v1M141.5,729v1M142.5,730v1M143.5,730v1M144.5,731v1M145.5,732v1M146.5,733v1M147.5,734v1M148.5,735v1M149.5,735v1M150.5,736v1M151.5,737v1M152.5,736v1M153.5,734v2M154.5,733v1M155.5,732v1M156.5,731v1M157.5,731v1M158.5,730v1M159.5,729v1M160.5,730v1M161.5,731v2M162.5,733v1M163.5,734v1M164.5,734v1M165.5,734v1M166.5,734v1M167.5,734v1M168.5,732v2M169.5,731v1M170.5,729v2M171.5,728v1M172.5,728v1M173.5,728v1M174.5,728v1M175.5,728v1M176.5,728v1M177.5,727v1M178.5,727v1M179.5,726v1M180.5,727v1M181.5,728v2M182.5,730v1M183.5,731v1M184.5,731v1M185.5,732v1M186.5,732v1M187.5,733v1M188.5,731v2M189.5,730v1M190.5,728v2M191.5,727v4M192.5,731v6M193.5,737v6M194.5,743v6M195.5,749v3M196.5,752v1M197.5,753v1M198.5,754v1M199.5,755v1M200.5,753v2M201.5,752v1M202.5,750v2M203.5,749v1M204.5,748v1M205.5,747v1M206.5,746v1M207.5,745v1M208.5,745v1M209.5,745v1M210.5,744v1M211.5,743v2M212.5,741v2M213.5,738v3M214.5,736v2M215.5,734v2M216.5,735v2M217.5,737v1M218.5,738v2M219.5,740v1M220.5,741v2M221.5,743v1M222.5,744v2M223.5,746v1M224.5,745v1M225.5,743v2M226.5,742v1M227.5,741v1M228.5,739v2M229.5,738v1M230.5,736v2M231.5,735v1M232.5,735v1M233.5,736v1M234.5,736v1M235.5,737v1M236.5,737v1M237.5,738v1M238.5,738v1M239.5,739v1M240.5,738v1M241.5,736v2M242.5,735v1M243.5,734v1M244.5,735v1M245.5,735v1M246.5,736v1M247.5,737v1M248.5,735v2M249.5,733v2M250.5,731v2M251.5,730v1M252.5,731v1M253.5,732v2M254.5,734v1M255.5,735v1M256.5,735v1M257.5,736v1M258.5,736v1M259.5,737v1M260.5,737v1M261.5,737v1M262.5,737v1M263.5,737v1M264.5,738v1M265.5,739v2M266.5,741v1M267.5,742v1M268.5,742v1M269.5,741v1M270.5,741v1M271.5,740v1M272.5,741v1M273.5,742v1M274.5,743v1M275.5,744v1M276.5,744v1M277.5,744v1M278.5,744v1M279.5,744v1M280.5,742v2M281.5,741v1M282.5,739v2M283.5,738v1M284.5,738v1M285.5,738v1M286.5,739v1M287.5,739v1M288.5,740v1M289.5,741v2M290.5,743v1M291.5,744v1M292.5,745v1M293.5,746v2M294.5,748v1M295.5,749v1M296.5,748v1M297.5,748v1M298.5,747v1M299.5,746v2M300.5,748v3M301.5,751v2M302.5,753v3M303.5,756v2M304.5,758v1M305.5,758v1M306.5,759v1M307.5,760v1M308.5,761v1M309.5,762v2M310.5,764v1M311.5,765v1M312.5,765v1M313.5,765v1M314.5,765v1M315.5,765v1M316.5,764v1M317.5,762v2M318.5,761v1M319.5,760v1M320.5,760v1M321.5,761v1M322.5,761v1M323.5,762v1M324.5,760v2M325.5,758v2M326.5,756v2M327.5,754v2M328.5,751v3M329.5,749v2M330.5,746v3M331.5,744v2M332.5,744v1M333.5,744v1M334.5,745v1M335.5,745v1M336.5,744v1M337.5,742v2M338.5,741v1M339.5,740v1M340.5,741v2M341.5,743v1M342.5,744v2M343.5,746v1M344.5,745v1M345.5,745v1M346.5,744v1M347.5,743v2M348.5,745v3M349.5,748v2M350.5,750v3M351.5,753v2M352.5,754v1M353.5,753v1M354.5,753v1M355.5,752v1M356.5,752v1M357.5,753v1M358.5,753v1M359.5,754v2M360.5,756v2M361.5,758v2M362.5,760v2M363.5,762v1M364.5,762v1M365.5,762v1M366.5,761v1M367.5,759v3M368.5,755v4M369.5,751v4M370.5,747v4M371.5,744v3M372.5,742v2M373.5,741v1M374.5,739v2M375.5,738v1M376.5,739v1M377.5,740v1M378.5,741v1M379.5,742v1M380.5,741v1M381.5,739v2M382.5,738v1M383.5,737v1M384.5,736v1M385.5,736v1M386.5,735v1M387.5,734v1M388.5,734v1M389.5,734v1M390.5,735v1M391.5,735v1M392.5,734v1M393.5,733v1M394.5,732v1M395.5,731v1M396.5,732v2M397.5,734v2M398.5,736v2M399.5,738v1M400.5,737v1M401.5,737v1M402.5,736v1M403.5,735v1M404.5,735v1M405.5,735v1M406.5,736v1M407.5,736v1M408.5,736v1M409.5,737v1M410.5,737v1M411.5,738v1M412.5,738v1M413.5,738v1M414.5,738v1M415.5,738v2M416.5,740v2M417.5,742v2M418.5,744v2M419.5,746v1M420.5,747v2M421.5,749v1M422.5,750v2M423.5,752v1M424.5,751v1M425.5,750v1M426.5,749v1M427.5,748v1M428.5,749v1M429.5,750v2M430.5,752v1M431.5,753v1M432.5,754v1M433.5,755v1M434.5,756v1M435.5,757v1M436.5,757v1M437.5,757v1M438.5,757v1M439.5,757v1M440.5,757v1M441.5,757v1M442.5,758v1M443.5,757v2M444.5,755v2M445.5,753v2M446.5,751v2M447.5,749v2M448.5,747v2M449.5,745v2M450.5,743v2M451.5,742v1M452.5,743v1M453.5,743v1M454.5,744v1M455.5,745v1M456.5,745v1M457.5,745v1M458.5,745v1M459.5,745v1M460.5,744v1M461.5,743v1M462.5,742v1M463.5,741v1M464.5,739v2M465.5,738v1M466.5,736v2M467.5,735v1M468.5,735v1M469.5,735v1M470.5,736v1M471.5,736v1M472.5,736v1M473.5,736v1M474.5,736v1M475.5,736v2M476.5,738v2M477.5,740v2M478.5,742v2M479.5,744v1M480.5,744v1M481.5,744v1M482.5,745v1M483.5,744v2M484.5,742v2M485.5,740v2M486.5,738v2M487.5,737v1M488.5,738v1M489.5,739v1M490.5,740v1M491.5,741v1M492.5,740v1M493.5,738v2M494.5,737v1M495.5,736v1M496.5,737v1M497.5,737v1M498.5,738v1M499.5,739v2M500.5,741v2M501.5,743v2M502.5,745v2M503.5,747v2M504.5,745v2M505.5,743v2M506.5,741v2M507.5,739v2M508.5,737v2M509.5,736v1M510.5,734v2M511.5,733v1M512.5,734v1M513.5,735v1M514.5,736v1M515.5,737v1M516.5,736v1M517.5,736v1M518.5,735v1M519.5,734v1M520.5,733v1M521.5,731v2M522.5,730v1M523.5,729v1M524.5,729v1M525.5,729v1M526.5,729v1M527.5,729v1M528.5,730v2M529.5,732v2M530.5,734v2M531.5,736v1M532.5,736v1M533.5,736v1M534.5,735v1M535.5,735v1M536.5,735v1M537.5,734v1M538.5,734v1M539.5,733v1M540.5,734v1M541.5,735v2M542.5,737v1M543.5,738v1M544.5,738v1M545.5,737v1M546.5,737v1M547.5,736v1M548.5,737v1M549.5,737v1M550.5,738v1M551.5,739v1M552.5,738v1M553.5,737v1M554.5,736v1M555.5,735v1M556.5,735v1M557.5,735v1M558.5,736v1M559.5,736v1M560.5,736v1M561.5,736v1M562.5,735v1M563.5,735v1M564.5,734v1M565.5,732v2M566.5,731v1M567.5,730v2M568.5,732v2M569.5,734v2M570.5,736v2M571.5,738v2M572.5,739v1M573.5,739v1M574.5,740v1M575.5,740v1M576.5,739v1M577.5,738v1M578.5,737v1M579.5,736v2M580.5,738v3M581.5,741v4M582.5,745v3M583.5,748v2M584.5,745v3M585.5,742v3M586.5,739v3M587.5,737v2M588.5,736v1M589.5,736v1M590.5,735v1M591.5,734v1M592.5,733v1M593.5,731v2M594.5,730v1M595.5,729v1M596.5,729v1M597.5,728v1M598.5,728v1M599.5,727v1M600.5,726v1M601.5,724v2M602.5,723v1M603.5,722v1M604.5,723v1M605.5,724v2M606.5,726v1M607.5,727v1M608.5,727v1M609.5,727v1M610.5,726v1M611.5,726v1M612.5,726v1M613.5,726v1M614.5,727v1M615.5,727v1M616.5,728v1M617.5,728v1M618.5,729v1M619.5,730v1M620.5,728v2M621.5,727v1M622.5,725v2M623.5,724v1M624.5,725v1M625.5,726v1M626.5,727v1M627.5,727v2M628.5,723v4M629.5,719v4M630.5,715v4M631.5,713v2M632.5,713v1M633.5,712v1M634.5,712v1M635.5,711v1M636.5,711v1M637.5,710v1M638.5,710v1M639.5,709v1M640.5,707v2M641.5,705v2M642.5,703v2M643.5,702v1M644.5,702v1M645.5,702v1M646.5,701v1M647.5,700v2M648.5,698v2M649.5,696v2M650.5,694v2M651.5,692v2M652.5,693v2M653.5,695v1M654.5,696v2M655.5,698v1M656.5,698v1M657.5,698v1M658.5,698v1M659.5,698v1M660.5,697v1M661.5,697v1M662.5,696v1M663.5,695v1M664.5,695v1M665.5,694v1M666.5,694v1M667.5,693v1M668.5,694v1M669.5,695v2M670.5,697v1M671.5,698v1M672.5,699v1M673.5,699v1M674.5,700v1M675.5,701v1M676.5,701v1M677.5,701v1M678.5,700v1M679.5,700v1M680.5,700v1M681.5,701v1M682.5,701v1M683.5,702v2M684.5,704v2M685.5,706v2M686.5,708v2M687.5,710v1M688.5,710v1M689.5,711v1M690.5,711v1M691.5,712v1M692.5,712v1M693.5,711v1M694.5,711v1M695.5,710v1M696.5,710v1M697.5,709v1M698.5,709v1M699.5,708v1M700.5,708v1M701.5,707v1M702.5,707v1M703.5,706v1M704.5,707v1M705.5,707v1M706.5,708v1M707.5,709v2M708.5,711v2M709.5,713v2M710.5,715v2M711.5,717v1M712.5,717v1M713.5,716v1M714.5,716v1M715.5,715v1M716.5,715v1M717.5,715v1M718.5,714v1M719.5,714v1M720.5,714v1M721.5,714v1M722.5,713v1M723.5,713v1M724.5,712v1M725.5,711v1M726.5,710v1M727.5,709v1M728.5,709v1M729.5,709v1M730.5,709v1M731.5,709v2M732.5,711v3M733.5,714v2M734.5,716v3M735.5,719v2M736.5,720v1M737.5,720v1M738.5,719v1M739.5,719v1M740.5,719v1M741.5,719v1M742.5,718v1M743.5,718v1M744.5,718v1M745.5,718v1M746.5,717v1M747.5,717v1M748.5,717v1M749.5,717v1M750.5,717v1M751.5,717v3M752.5,720v5M753.5,725v5M754.5,730v5M755.5,735v3M756.5,737v1M757.5,737v1M758.5,738v1M759.5,738v2M760.5,740v3M761.5,743v2M762.5,745v3M763.5,748v2M764.5,749v1M765.5,748v1M766.5,748v1M767.5,747v1M768.5,746v1M769.5,744v2M770.5,743v1M771.5,742v1M772.5,741v1M773.5,739v2M774.5,738v1M775.5,737v1M776.5,737v1M777.5,738v1M778.5,738v1M779.5,739v1M780.5,740v1M781.5,740v1M782.5,741v1M783.5,742v1M784.5,742v1M785.5,743v1M786.5,743v1M787.5,744v1M788.5,745v1M789.5,746v1M790.5,747v1M791.5,747v2M792.5,744v3M793.5,741v3M794.5,738v3M795.5,736v2M796.5,736v1M797.5,736v1M798.5,737v1M799.5,737v1M800.5,737v1M801.5,738v1M802.5,738v1M803.5,738v2M804.5,736v2M805.5,733v3M806.5,731v2M807.5,729v2M808.5,730v1M809.5,731v1M810.5,732v1M811.5,733v1M812.5,732v1M813.5,732v1M814.5,731v1M815.5,730v2M816.5,732v2M817.5,734v2M818.5,736v2M819.5,738v1M820.5,738v1M821.5,738v1M822.5,738v1M823.5,738v1M824.5,738v1M825.5,737v1M826.5,737v1M827.5,736v1M828.5,737v1M829.5,737v1M830.5,738v1M831.5,739v1M832.5,738v1M833.5,738v1M834.5,737v1M835.5,736v1M836.5,736v1M837.5,737v1M838.5,737v1M839.5,738v1M840.5,738v1M841.5,739v1M842.5,739v1M843.5,740v1M844.5,738v2M845.5,737v1M846.5,735v2M847.5,734v1M848.5,734v1M849.5,734v1M850.5,734v1M851.5,734v1M852.5,734v1M853.5,734v1M854.5,733v1M855.5,733v1M856.5,734v1M857.5,735v1M858.5,736v1M859.5,737v1M860.5,738v1M861.5,738v1M862.5,739v1M863.5,740v1M864.5,738v2M865.5,736v2M866.5,734v2M867.5,733v1M868.5,731v2M869.5,730v1M870.5,728v2M871.5,727v1M872.5,728v1M873.5,728v1M874.5,729v1M875.5,729v2M876.5,726v3M877.5,724v2M878.5,721v3M879.5,717v4M880.5,713v4M881.5,708v5M882.5,704v4M883.5,701v3M884.5,701v1M885.5,701v1M886.5,700v1M887.5,699v2M888.5,695v4M889.5,691v4M890.5,687v4M891.5,685v4M892.5,689v6M893.5,695v6M894.5,701v6M895.5,707v4M896.5,709v1M897.5,708v1M898.5,707v1M899.5,706v1M900.5,706v1M901.5,706v1M902.5,707v1M903.5,707v1M904.5,707v1M905.5,706v1M906.5,706v1M907.5,705v1M908.5,705v1M909.5,705v1M910.5,705v1M911.5,705v3M912.5,708v5M913.5,713v5M914.5,718v5M915.5,723v3M916.5,724v1M917.5,722v2M918.5,721v1M919.5,720v1M920.5,720v1M921.5,720v1M922.5,721v1M923.5,721v1M924.5,721v1M925.5,721v1M926.5,721v1M927.5,721v1M928.5,720v1M929.5,719v1M930.5,718v1M931.5,717v1M932.5,717v1M933.5,717v1M934.5,718v1M935.5,718v1M936.5,718v1M937.5,718v1M938.5,719v1M939.5,719v1M940.5,718v1M941.5,717v1M942.5,716v1M943.5,715v1M944.5,713v2M945.5,712v1M946.5,710v2M947.5,709v1M948.5,708v1M949.5,707v1M950.5,706v1M951.5,705v1M952.5,705v1M953.5,705v1M954.5,706v1M955.5,706v1M956.5,706v1M957.5,706v1M958.5,705v1M959.5,705v2M960.5,707v2M961.5,709v2M962.5,711v2M963.5,713v1M964.5,712v1M965.5,712v1M966.5,711v1M967.5,710v1M968.5,709v1M969.5,708v1M970.5,707v1M971.5,706v1M972.5,707v2M973.5,709v1M974.5,710v2M975.5,712v2M976.5,714v2M977.5,716v2M978.5,718v2M979.5,720v1M980.5,720v1M981.5,721v1M982.5,721v1M983.5,722v2M984.5,724v2M985.5,726v2M986.5,728v2M987.5,730v1M988.5,729v1M989.5,729v1M990.5,728v1M991.5,727v1M992.5,727v1M993.5,728v1M994.5,728v1M995.5,729v1M996.5,730v1M997.5,731v2M998.5,733v1M999.5,734v1M1000.5,735v2M1001.5,737v1M1002.5,738v2M1003.5,740v1M1004.5,741v1M1005.5,742v1M1006.5,743v1M1007.5,744v1M1008.5,743v1M1009.5,741v2M1010.5,740v1M1011.5,739v1M1012.5,738v1M1013.5,736v2M1014.5,735v1M1015.5,734v1M1016.5,734v1M1017.5,734v1M1018.5,733v1M1019.5,733v1M1020.5,732v1M1021.5,732v1M1022.5,731v1M1023.5,730v1M1024.5,729v1M1025.5,728v1M1026.5,727v1M1027.5,726v1M1028.5,727v1M1029.5,727v1M1030.5,728v1M1031.5,729v1M1032.5,729v1M1033.5,729v1M1034.5,730v1M1035.5,730v1M1036.5,728v2M1037.5,727v1M1038.5,725v2M1039.5,724v1M1040.5,724v1M1041.5,724v1M1042.5,725v1M1043.5,725v1M1044.5,724v1M1045.5,722v2M1046.5,721v1M1047.5,720v1M1048.5,720v1M1049.5,720v1M1050.5,721v1M1051.5,721v1M1052.5,721v1M1053.5,721v1M1054.5,720v1M1055.5,720v1M1056.5,720v1M1057.5,720v1M1058.5,721v1M1059.5,721v1M1060.5,722v2M1061.5,724v2M1062.5,726v2M1063.5,728v1M1064.5,729v2M1065.5,731v1M1066.5,732v2M1067.5,733v2M1068.5,731v2M1069.5,729v2M1070.5,727v2M1071.5,726v1M1072.5,724v2M1073.5,723v1M1074.5,721v2M1075.5,720v1M1076.5,720v1M1077.5,720v1M1078.5,721v1M1079.5,721v3M1080.5,724v4M1081.5,728v4M1082.5,732v4M1083.5,736v2M1084.5,738v2M1085.5,740v1M1086.5,741v2M1087.5,743v1M1088.5,743v1M1089.5,743v1M1090.5,744v1M1091.5,744v1M1092.5,743v1M1093.5,742v1M1094.5,741v1M1095.5,740v1M1096.5,738v2M1097.5,737v1M1098.5,735v2M1099.5,734v1M1100.5,735v2M1101.5,737v2M1102.5,739v2M1103.5,741v1M1104.5,741v1M1105.5,741v1M1106.5,742v1M1107.5,742v1M1108.5,742v1M1109.5,742v1M1110.5,743v1M1111.5,743v1M1112.5,743v1M1113.5,742v1M1114.5,742v1M1115.5,741v1M1116.5,742v1M1117.5,742v1M1118.5,743v1M1119.5,744v1M1120.5,743v1M1121.5,742v1M1122.5,741v1M1123.5,740v1M1124.5,741v2M1125.5,743v1M1126.5,744v2M1127.5,746v1M1128.5,746v1M1129.5,746v1M1130.5,745v1M1131.5,745v1" stroke="#1e90ff" stroke-width="1" fill="none" shape-rendering="crispEdges"/>
<text x="7" y="681.5" font-size="10.1" fill="#000" text-anchor="start" font-weight="normal" textLength="68" lengthAdjust="spacingAndGlyphs"  stroke="#000" stroke-width="0.18">RSI(14) 39.8375</text>
<g shape-rendering="crispEdges" fill="#000">
<rect x="2" y="22" width="1" height="777" fill="#000" />
<rect x="1418" y="22" width="1" height="777" fill="#000" />
<rect x="2" y="22" width="1417" height="1" fill="#000" />
<rect x="2" y="561" width="1417" height="1" fill="#000" />
<rect x="2" y="563" width="1417" height="1" fill="#000" />
<rect x="2" y="666" width="1417" height="1" fill="#000" />
<rect x="2" y="668" width="1417" height="1" fill="#000" />
<rect x="2" y="798" width="1417" height="1" fill="#000" />
<rect x="3" y="562" width="1415" height="1" fill="#fff" />
<rect x="3" y="667" width="1415" height="1" fill="#fff" />
</g>
<g shape-rendering="crispEdges">
<rect x="2" y="40" width="7" height="7" fill="#ff0000" />
<rect x="5" y="43" width="1" height="1" fill="#ffffff" />
<rect x="1412" y="40" width="7" height="7" fill="#ff0000" />
<rect x="1415" y="43" width="1" height="1" fill="#ffffff" />
<rect x="2" y="135" width="7" height="7" fill="#ff0000" />
<rect x="5" y="138" width="1" height="1" fill="#ffffff" />
<rect x="1412" y="135" width="7" height="7" fill="#ff0000" />
<rect x="1415" y="138" width="1" height="1" fill="#ffffff" />
<rect x="2" y="230" width="7" height="7" fill="#00ff00" />
<rect x="5" y="233" width="1" height="1" fill="#ffffff" />
<rect x="1412" y="230" width="7" height="7" fill="#00ff00" />
<rect x="1415" y="233" width="1" height="1" fill="#ffffff" />
<rect x="2" y="325" width="7" height="7" fill="#0000ff" />
<rect x="5" y="328" width="1" height="1" fill="#ffffff" />
<rect x="1412" y="325" width="7" height="7" fill="#0000ff" />
<rect x="1415" y="328" width="1" height="1" fill="#ffffff" />
</g>
<polygon points="1129,23 1139,23 1134,28" fill="#c0c0c0"/>
<polygon points="3,793 3,798 8,798" fill="#c0c0c0"/>
<g shape-rendering="crispEdges">
<rect x="1419" y="30" width="2" height="1" fill="#000" />
<rect x="1419" y="63" width="2" height="1" fill="#000" />
<rect x="1419" y="96" width="2" height="1" fill="#000" />
<rect x="1419" y="129" width="2" height="1" fill="#000" />
<rect x="1419" y="162" width="2" height="1" fill="#000" />
<rect x="1419" y="195" width="2" height="1" fill="#000" />
<rect x="1419" y="228" width="2" height="1" fill="#000" />
<rect x="1419" y="261" width="2" height="1" fill="#000" />
<rect x="1419" y="294" width="2" height="1" fill="#000" />
<rect x="1419" y="327" width="2" height="1" fill="#000" />
<rect x="1419" y="360" width="2" height="1" fill="#000" />
<rect x="1419" y="393" width="2" height="1" fill="#000" />
<rect x="1419" y="426" width="2" height="1" fill="#000" />
<rect x="1419" y="459" width="2" height="1" fill="#000" />
<rect x="1419" y="492" width="2" height="1" fill="#000" />
<rect x="1419" y="525" width="2" height="1" fill="#000" />
<rect x="1419" y="558" width="2" height="1" fill="#000" />
<rect x="1419" y="565" width="1" height="1" fill="#000" />
<rect x="1419" y="665" width="1" height="1" fill="#000" />
<rect x="1419" y="670" width="1" height="1" fill="#000" />
<rect x="1419" y="797" width="1" height="1" fill="#000" />
<rect x="1419" y="625" width="1" height="1" fill="#000" />
<rect x="1418" y="184" width="1" height="1" fill="#c0c0c0" />
</g>
<text x="1424" y="34" font-size="10.1" fill="#000" text-anchor="start" font-weight="normal" textLength="33" lengthAdjust="spacingAndGlyphs"  stroke="#000" stroke-width="0.18">7.21390</text>
<text x="1424" y="67" font-size="10.1" fill="#000" text-anchor="start" font-weight="normal" textLength="33" lengthAdjust="spacingAndGlyphs"  stroke="#000" stroke-width="0.18">7.17990</text>
<text x="1424" y="100" font-size="10.1" fill="#000" text-anchor="start" font-weight="normal" textLength="33" lengthAdjust="spacingAndGlyphs"  stroke="#000" stroke-width="0.18">7.14490</text>
<text x="1424" y="133" font-size="10.1" fill="#000" text-anchor="start" font-weight="normal" textLength="33" lengthAdjust="spacingAndGlyphs"  stroke="#000" stroke-width="0.18">7.10990</text>
<text x="1424" y="166" font-size="10.1" fill="#000" text-anchor="start" font-weight="normal" textLength="33" lengthAdjust="spacingAndGlyphs"  stroke="#000" stroke-width="0.18">7.07490</text>
<text x="1424" y="199" font-size="10.1" fill="#000" text-anchor="start" font-weight="normal" textLength="33" lengthAdjust="spacingAndGlyphs"  stroke="#000" stroke-width="0.18">7.04090</text>
<text x="1424" y="232" font-size="10.1" fill="#000" text-anchor="start" font-weight="normal" textLength="33" lengthAdjust="spacingAndGlyphs"  stroke="#000" stroke-width="0.18">7.00590</text>
<text x="1424" y="265" font-size="10.1" fill="#000" text-anchor="start" font-weight="normal" textLength="33" lengthAdjust="spacingAndGlyphs"  stroke="#000" stroke-width="0.18">6.97090</text>
<text x="1424" y="298" font-size="10.1" fill="#000" text-anchor="start" font-weight="normal" textLength="33" lengthAdjust="spacingAndGlyphs"  stroke="#000" stroke-width="0.18">6.93590</text>
<text x="1424" y="331" font-size="10.1" fill="#000" text-anchor="start" font-weight="normal" textLength="33" lengthAdjust="spacingAndGlyphs"  stroke="#000" stroke-width="0.18">6.90190</text>
<text x="1424" y="364" font-size="10.1" fill="#000" text-anchor="start" font-weight="normal" textLength="33" lengthAdjust="spacingAndGlyphs"  stroke="#000" stroke-width="0.18">6.86690</text>
<text x="1424" y="397" font-size="10.1" fill="#000" text-anchor="start" font-weight="normal" textLength="33" lengthAdjust="spacingAndGlyphs"  stroke="#000" stroke-width="0.18">6.83190</text>
<text x="1424" y="430" font-size="10.1" fill="#000" text-anchor="start" font-weight="normal" textLength="33" lengthAdjust="spacingAndGlyphs"  stroke="#000" stroke-width="0.18">6.79790</text>
<text x="1424" y="463" font-size="10.1" fill="#000" text-anchor="start" font-weight="normal" textLength="33" lengthAdjust="spacingAndGlyphs"  stroke="#000" stroke-width="0.18">6.76290</text>
<text x="1424" y="496" font-size="10.1" fill="#000" text-anchor="start" font-weight="normal" textLength="33" lengthAdjust="spacingAndGlyphs"  stroke="#000" stroke-width="0.18">6.72790</text>
<text x="1424" y="529" font-size="10.1" fill="#000" text-anchor="start" font-weight="normal" textLength="33" lengthAdjust="spacingAndGlyphs"  stroke="#000" stroke-width="0.18">6.69290</text>
<text x="1424" y="562" font-size="10.1" fill="#000" text-anchor="start" font-weight="normal" textLength="33" lengthAdjust="spacingAndGlyphs"  stroke="#000" stroke-width="0.18">6.65890</text>
<text x="1422" y="574" font-size="10.1" fill="#000" text-anchor="start" font-weight="normal" textLength="38.5" lengthAdjust="spacingAndGlyphs"  stroke="#000" stroke-width="0.18">0.060687</text>
<text x="1422" y="629" font-size="10.1" fill="#000" text-anchor="start" font-weight="normal" textLength="18" lengthAdjust="spacingAndGlyphs"  stroke="#000" stroke-width="0.18">0.00</text>
<text x="1422" y="663" font-size="10.1" fill="#000" text-anchor="start" font-weight="normal" textLength="41.5" lengthAdjust="spacingAndGlyphs"  stroke="#000" stroke-width="0.18">-0.040432</text>
<text x="1422" y="679" font-size="10.1" fill="#000" text-anchor="start" font-weight="normal" textLength="15" lengthAdjust="spacingAndGlyphs"  stroke="#000" stroke-width="0.18">100</text>
<text x="1421" y="712" font-size="10.1" fill="#000" text-anchor="start" font-weight="normal" textLength="10.2" lengthAdjust="spacingAndGlyphs"  stroke="#000" stroke-width="0.18">70</text>
<text x="1421" y="763" font-size="10.1" fill="#000" text-anchor="start" font-weight="normal" textLength="10.2" lengthAdjust="spacingAndGlyphs"  stroke="#000" stroke-width="0.18">30</text>
<text x="1422" y="795" font-size="10.1" fill="#000" text-anchor="start" font-weight="normal" textLength="5" lengthAdjust="spacingAndGlyphs"  stroke="#000" stroke-width="0.18">0</text>
<g shape-rendering="crispEdges">
<rect x="1420" y="37" width="40" height="11" fill="#ff0000" />
<rect x="1420" y="132" width="40" height="11" fill="#ff0000" />
<rect x="1420" y="227" width="40" height="11" fill="#00ff00" />
<rect x="1420" y="322" width="40" height="11" fill="#0000ff" />
<rect x="1420" y="398" width="40" height="11" fill="#0000ff" />
<rect x="1420" y="179" width="40" height="11" fill="#000" />
</g>
<text x="1424" y="46" font-size="10.1" fill="#fff" text-anchor="start" font-weight="normal" textLength="33" lengthAdjust="spacingAndGlyphs"  stroke="#fff" stroke-width="0.18">7.20009</text>
<text x="1424" y="141" font-size="10.1" fill="#fff" text-anchor="start" font-weight="normal" textLength="33" lengthAdjust="spacingAndGlyphs"  stroke="#fff" stroke-width="0.18">7.10029</text>
<text x="1424" y="236" font-size="10.1" fill="#fff" text-anchor="start" font-weight="normal" textLength="33" lengthAdjust="spacingAndGlyphs"  stroke="#fff" stroke-width="0.18">7.00048</text>
<text x="1424" y="331" font-size="10.1" fill="#fff" text-anchor="start" font-weight="normal" textLength="33" lengthAdjust="spacingAndGlyphs"  stroke="#fff" stroke-width="0.18">6.90100</text>
<text x="1424" y="407" font-size="10.1" fill="#fff" text-anchor="start" font-weight="normal" textLength="33" lengthAdjust="spacingAndGlyphs"  stroke="#fff" stroke-width="0.18">6.82103</text>
<text x="1424" y="188" font-size="10.1" fill="#fff" text-anchor="start" font-weight="normal" textLength="33" lengthAdjust="spacingAndGlyphs"  stroke="#fff" stroke-width="0.18">7.05214</text>
<polygon points="6,33 12.5,33 9.2,29" fill="#000"/>
<text x="18" y="34" font-size="10.1" fill="#000" text-anchor="start" font-weight="normal" textLength="68.3" lengthAdjust="spacingAndGlyphs"  stroke="#000" stroke-width="0.18">USDCNH-,Daily</text>
<text x="93" y="34" font-size="10.1" fill="#000" text-anchor="start" font-weight="normal" textLength="141" lengthAdjust="spacingAndGlyphs"  stroke="#000" stroke-width="0.18">7.04760 7.05602 7.04750 7.05214</text>
<defs>
<linearGradient id="gb" gradientUnits="userSpaceOnUse" x1="0" y1="42" x2="0" y2="106"><stop offset="0" stop-color="#5454fc"/><stop offset="0.45" stop-color="#2e2edb"/><stop offset="1" stop-color="#0000a0"/></linearGradient>
<linearGradient id="gg" x1="0" y1="0" x2="0" y2="1"><stop offset="0" stop-color="#f4f4f4"/><stop offset="0.45" stop-color="#e4e4e4"/><stop offset="0.5" stop-color="#d0d0d0"/><stop offset="1" stop-color="#c8c8c8"/></linearGradient>
</defs>
<rect x="4" y="36" width="223" height="72" fill="#ffffff" />
<g shape-rendering="crispEdges">
<path d="M6.5,42.5 H57.5 V66.5 H114.5 V105.5 H6.5 Z" fill="url(#gb)" stroke="#0000b0" stroke-width="1"/>
<path d="M224.5,42.5 H173.5 V66.5 H117.5 V105.5 H224.5 Z" fill="url(#gb)" stroke="#0000b0" stroke-width="1"/>
<rect x="10" y="65" width="44" height="1" fill="#000080" />
<rect x="10" y="66" width="44" height="1" fill="#7878ff" />
<rect x="177" y="65" width="44" height="1" fill="#000080" />
<rect x="177" y="66" width="44" height="1" fill="#7878ff" />
<rect x="60" y="42" width="111" height="22" fill="#a8a8b0" />
<rect x="61" y="43" width="109" height="20" fill="#ffffff" />
<rect x="61" y="43" width="20" height="20" fill="url(#gg)" />
<rect x="81" y="43" width="1" height="20" fill="#a8a8b0" />
<rect x="150" y="43" width="20" height="20" fill="url(#gg)" />
<rect x="149" y="43" width="1" height="20" fill="#a8a8b0" />
</g>
<polygon points="67.5,51 73.5,51 70.5,54.5" fill="#5a6ab0"/>
<polygon points="156.5,54.5 162.5,54.5 159.5,51" fill="#5a6ab0"/>
<text x="18.6" y="58" font-size="12.3" fill="#f0f0ff" text-anchor="start" font-weight="normal" textLength="25.2" lengthAdjust="spacingAndGlyphs" >SELL</text>
<text x="186.6" y="58" font-size="12.3" fill="#f0f0ff" text-anchor="start" font-weight="normal" textLength="23.3" lengthAdjust="spacingAndGlyphs" >BUY</text>
<text x="145.7" y="57" font-size="12.3" fill="#000" text-anchor="end" font-weight="normal" textLength="23" lengthAdjust="spacingAndGlyphs" >1.00</text>
<text x="25.8" y="97" font-size="12" fill="#fff" text-anchor="start" font-weight="bold" textLength="24.2" lengthAdjust="spacingAndGlyphs" >7.05</text>
<text x="135.8" y="97" font-size="12" fill="#fff" text-anchor="start" font-weight="bold" textLength="24.2" lengthAdjust="spacingAndGlyphs" >7.05</text>
<text x="54" y="97.4" font-size="35" fill="#fff" text-anchor="start" font-weight="normal" textLength="34.2" lengthAdjust="spacingAndGlyphs" stroke="url(#gb)" stroke-width="0.5">21</text>
<text x="163.3" y="97.4" font-size="35" fill="#fff" text-anchor="start" font-weight="normal" textLength="36.6" lengthAdjust="spacingAndGlyphs" stroke="url(#gb)" stroke-width="0.5">46</text>
<text x="92.8" y="81" font-size="12" fill="#fff" text-anchor="start" font-weight="bold" textLength="7" lengthAdjust="spacingAndGlyphs" >4</text>
<text x="204.2" y="81" font-size="12" fill="#fff" text-anchor="start" font-weight="bold" textLength="6.6" lengthAdjust="spacingAndGlyphs" >2</text>
<g shape-rendering="crispEdges">
<rect x="3" y="799" width="1" height="3" fill="#000" />
<rect x="67" y="799" width="1" height="3" fill="#000" />
<rect x="131" y="799" width="1" height="3" fill="#000" />
<rect x="195" y="799" width="1" height="3" fill="#000" />
<rect x="259" y="799" width="1" height="3" fill="#000" />
<rect x="323" y="799" width="1" height="3" fill="#000" />
<rect x="387" y="799" width="1" height="3" fill="#000" />
<rect x="451" y="799" width="1" height="3" fill="#000" />
<rect x="515" y="799" width="1" height="3" fill="#000" />
<rect x="579" y="799" width="1" height="3" fill="#000" />
<rect x="643" y="799" width="1" height="3" fill="#000" />
<rect x="707" y="799" width="1" height="3" fill="#000" />
<rect x="771" y="799" width="1" height="3" fill="#000" />
<rect x="835" y="799" width="1" height="3" fill="#000" />
<rect x="899" y="799" width="1" height="3" fill="#000" />
<rect x="963" y="799" width="1" height="3" fill="#000" />
<rect x="1027" y="799" width="1" height="3" fill="#000" />
<rect x="1091" y="799" width="1" height="3" fill="#000" />
</g>
<text x="2.2" y="811" font-size="10.1" fill="#000" text-anchor="start" font-weight="normal" textLength="51.5" lengthAdjust="spacingAndGlyphs"  stroke="#000" stroke-width="0.18">26 Sep 2018</text>
<text x="66.2" y="811" font-size="10.1" fill="#000" text-anchor="start" font-weight="normal" textLength="49.9" lengthAdjust="spacingAndGlyphs"  stroke="#000" stroke-width="0.18">18 Oct 2018</text>
<text x="130.2" y="811" font-size="10.1" fill="#000" text-anchor="start" font-weight="normal" textLength="48" lengthAdjust="spacingAndGlyphs"  stroke="#000" stroke-width="0.18">9 Nov 2018</text>
<text x="194.2" y="811" font-size="10.1" fill="#000" text-anchor="start" font-weight="normal" textLength="46" lengthAdjust="spacingAndGlyphs"  stroke="#000" stroke-width="0.18">3 Dec 2018</text>
<text x="258.2" y="811" font-size="10.1" fill="#000" text-anchor="start" font-weight="normal" textLength="51" lengthAdjust="spacingAndGlyphs"  stroke="#000" stroke-width="0.18">25 Dec 2018</text>
<text x="322.2" y="811" font-size="10.1" fill="#000" text-anchor="start" font-weight="normal" textLength="49" lengthAdjust="spacingAndGlyphs"  stroke="#000" stroke-width="0.18">16 Jan 2019</text>
<text x="386.2" y="811" font-size="10.1" fill="#000" text-anchor="start" font-weight="normal" textLength="46" lengthAdjust="spacingAndGlyphs"  stroke="#000" stroke-width="0.18">7 Feb 2019</text>
<text x="450.2" y="811" font-size="10.1" fill="#000" text-anchor="start" font-weight="normal" textLength="46" lengthAdjust="spacingAndGlyphs"  stroke="#000" stroke-width="0.18">1 Mar 2019</text>
<text x="514.2" y="811" font-size="10.1" fill="#000" text-anchor="start" font-weight="normal" textLength="51" lengthAdjust="spacingAndGlyphs"  stroke="#000" stroke-width="0.18">25 Mar 2019</text>
<text x="578.2" y="811" font-size="10.1" fill="#000" text-anchor="start" font-weight="normal" textLength="50" lengthAdjust="spacingAndGlyphs"  stroke="#000" stroke-width="0.18">16 Apr 2019</text>
<text x="642.2" y="811" font-size="10.1" fill="#000" text-anchor="start" font-weight="normal" textLength="49" lengthAdjust="spacingAndGlyphs"  stroke="#000" stroke-width="0.18">9 May 2019</text>
<text x="706.2" y="811" font-size="10.1" fill="#000" text-anchor="start" font-weight="normal" textLength="54.6" lengthAdjust="spacingAndGlyphs"  stroke="#000" stroke-width="0.18">31 May 2019</text>
<text x="770.2" y="811" font-size="10.1" fill="#000" text-anchor="start" font-weight="normal" textLength="49.6" lengthAdjust="spacingAndGlyphs"  stroke="#000" stroke-width="0.18">24 Jun 2019</text>
<text x="834.2" y="811" font-size="10.1" fill="#000" text-anchor="start" font-weight="normal" textLength="45.7" lengthAdjust="spacingAndGlyphs"  stroke="#000" stroke-width="0.18">16 Jul 2019</text>
<text x="898.2" y="811" font-size="10.1" fill="#000" text-anchor="start" font-weight="normal" textLength="48.1" lengthAdjust="spacingAndGlyphs"  stroke="#000" stroke-width="0.18">7 Aug 2019</text>
<text x="962.2" y="811" font-size="10.1" fill="#000" text-anchor="start" font-weight="normal" textLength="52.6" lengthAdjust="spacingAndGlyphs"  stroke="#000" stroke-width="0.18">29 Aug 2019</text>
<text x="1026.2" y="811" font-size="10.1" fill="#000" text-anchor="start" font-weight="normal" textLength="51.1" lengthAdjust="spacingAndGlyphs"  stroke="#000" stroke-width="0.18">20 Sep 2019</text>
<text x="1090.2" y="811" font-size="10.1" fill="#000" text-anchor="start" font-weight="normal" textLength="50.2" lengthAdjust="spacingAndGlyphs"  stroke="#000" stroke-width="0.18">14 Oct 2019</text>
<rect x="0" y="819" width="1460" height="1" fill="#e0e0e0" />
<rect x="0" y="821" width="1460" height="1" fill="#000" />
<rect x="0" y="822" width="1460" height="1" fill="#f8f8f8" />
<rect x="0" y="823" width="1460" height="18" fill="#f0f0f0" />
<rect x="0" y="841" width="1460" height="1" fill="#ffffff" />
<rect x="0" y="842" width="1460" height="3" fill="#f0f0f0" />
<text x="16" y="836" font-size="12.5" fill="#606060" text-anchor="start" font-weight="normal" textLength="84" lengthAdjust="spacingAndGlyphs" >EURUSD-,Daily</text>
<rect x="111.5" y="824" width="1" height="15" fill="#505050" shape-rendering="crispEdges"/>
<text x="122.5" y="836" font-size="12.5" fill="#606060" text-anchor="start" font-weight="normal" textLength="86.5" lengthAdjust="spacingAndGlyphs" >AUDUSD-,Daily</text>
<rect x="219.5" y="824" width="1" height="15" fill="#505050" shape-rendering="crispEdges"/>
<text x="232.5" y="836" font-size="12.5" fill="#606060" text-anchor="start" font-weight="normal" textLength="83.5" lengthAdjust="spacingAndGlyphs" >USDCHF-,Daily</text>
<rect x="328.0" y="824" width="1" height="15" fill="#505050" shape-rendering="crispEdges"/>
<text x="339" y="836" font-size="12.5" fill="#606060" text-anchor="start" font-weight="normal" textLength="86" lengthAdjust="spacingAndGlyphs" >USDCAD-,Daily</text>
<text x="559" y="836" font-size="12.5" fill="#606060" text-anchor="start" font-weight="normal" textLength="97" lengthAdjust="spacingAndGlyphs" >EURCHF-,Weekly</text>
<rect x="668.0" y="824" width="1" height="15" fill="#505050" shape-rendering="crispEdges"/>
<text x="680" y="836" font-size="12.5" fill="#606060" text-anchor="start" font-weight="normal" textLength="100" lengthAdjust="spacingAndGlyphs" >XAUUSD-,Weekly</text>
<rect x="792.0" y="824" width="1" height="15" fill="#505050" shape-rendering="crispEdges"/>
<text x="803.5" y="836" font-size="12.5" fill="#606060" text-anchor="start" font-weight="normal" textLength="72.0" lengthAdjust="spacingAndGlyphs" >GBPUSD-,H1</text>
<rect x="888.5" y="824" width="1" height="15" fill="#505050" shape-rendering="crispEdges"/>
<text x="899" y="836" font-size="12.5" fill="#606060" text-anchor="start" font-weight="normal" textLength="57" lengthAdjust="spacingAndGlyphs" >UKOil-,H1</text>
<rect x="968.0" y="824" width="1" height="15" fill="#505050" shape-rendering="crispEdges"/>
<text x="978.5" y="836" font-size="12.5" fill="#606060" text-anchor="start" font-weight="normal" textLength="82.5" lengthAdjust="spacingAndGlyphs" >USDX-,Weekly</text>
<rect x="1072.0" y="824" width="1" height="15" fill="#505050" shape-rendering="crispEdges"/>
<text x="1082.5" y="836" font-size="12.5" fill="#606060" text-anchor="start" font-weight="normal" textLength="70.5" lengthAdjust="spacingAndGlyphs" >EURCHF-,H1</text>
<rect x="1164.0" y="824" width="1" height="15" fill="#505050" shape-rendering="crispEdges"/>
<text x="1176" y="836" font-size="12.5" fill="#606060" text-anchor="start" font-weight="normal" textLength="55.5" lengthAdjust="spacingAndGlyphs" >USOil-,H1</text>
<rect x="1244.5" y="824" width="1" height="15" fill="#505050" shape-rendering="crispEdges"/>
<g shape-rendering="crispEdges">
<rect x="436" y="820" width="112" height="19" fill="#ffffff" />
<rect x="436" y="821" width="1" height="19" fill="#000" />
<rect x="547" y="821" width="1" height="19" fill="#000" />
<rect x="436" y="838" width="112" height="2" fill="#000" />
</g>
<text x="448" y="836" font-size="12.5" fill="#000" text-anchor="start" font-weight="normal" textLength="88" lengthAdjust="spacingAndGlyphs" >USDCNH-,Daily</text>
<polygon points="1434,830 1437.5,826.5 1437.5,833.5" fill="#909090"/>
<polygon points="1456.5,830 1453,826.5 1453,833.5" fill="#909090"/>
</svg>
</body></html>
